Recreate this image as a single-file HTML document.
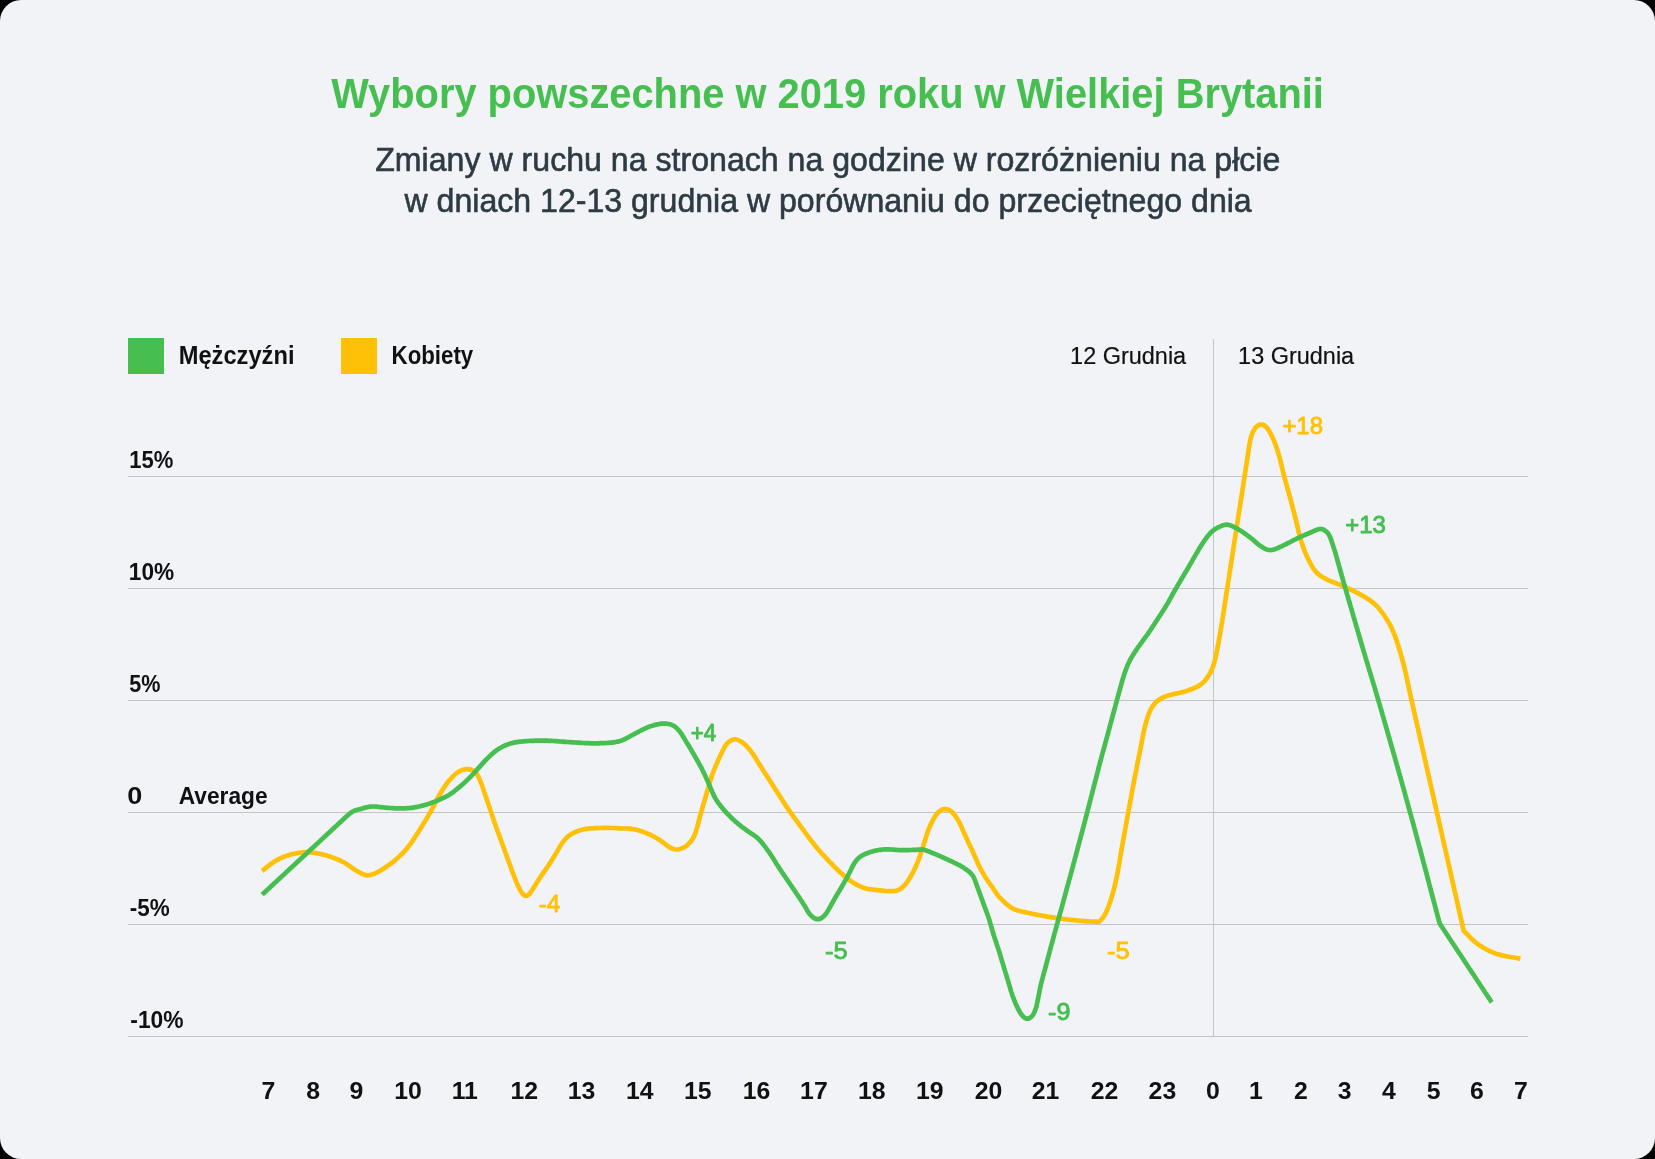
<!DOCTYPE html>
<html lang="pl"><head><meta charset="utf-8"><title>Wybory powszechne w 2019 roku w Wielkiej Brytanii</title>
<style>
html,body{margin:0;padding:0;background:#000;width:1655px;height:1159px;overflow:hidden}
.card{position:absolute;left:0;top:0;width:1655px;height:1159px;background:#f2f3f7;border-radius:21px;overflow:hidden}
svg{position:absolute;left:0;top:0;will-change:transform;font-family:"Liberation Sans", sans-serif}
</style></head><body>
<div class="card">
<svg width="1655" height="1159" viewBox="0 0 1655 1159">
<g fill="#c4c4c4">
<rect x="128" y="476" width="1400" height="1"/>
<rect x="128" y="588" width="1400" height="1"/>
<rect x="128" y="700" width="1400" height="1"/>
<rect x="128" y="812" width="1400" height="1"/>
<rect x="128" y="924" width="1400" height="1"/>
<rect x="128" y="1036" width="1400" height="1"/>
<rect x="1213" y="339" width="1" height="698"/>
</g>
<rect x="128" y="338" width="36" height="36" fill="#46be50"/>
<rect x="341" y="338" width="36" height="36" fill="#ffc107"/>
<path d="M262.1,871.0L262.9,870.4 263.7,869.7 264.4,869.1 265.2,868.5 266.0,867.8 266.8,867.2 267.5,866.6 268.3,865.9 269.1,865.3 269.9,864.7 270.7,864.1 271.5,863.5 272.3,862.9 273.1,862.4 274.0,861.9 274.8,861.3 275.7,860.8 276.6,860.3 277.4,859.8 278.3,859.4 279.2,858.9 280.1,858.5 281.0,858.0 281.9,857.6 282.8,857.2 283.8,856.8 284.7,856.5 285.6,856.1 286.6,855.8 287.5,855.5 288.5,855.2 289.4,854.9 290.4,854.6 291.3,854.3 292.3,854.1 293.3,853.9 294.3,853.7 295.3,853.5 296.2,853.3 297.2,853.1 298.2,853.0 299.2,852.8 300.2,852.7 301.2,852.6 302.2,852.5 303.2,852.4 304.2,852.3 305.2,852.3 306.2,852.2 307.2,852.2 308.2,852.3 309.2,852.3 310.2,852.4 311.2,852.5 312.2,852.6 313.1,852.7 314.1,852.8 315.1,853.0 316.1,853.1 317.1,853.3 318.1,853.5 319.1,853.7 320.0,853.9 321.0,854.1 322.0,854.3 323.0,854.6 323.9,854.8 324.9,855.0 325.9,855.3 326.8,855.6 327.8,855.9 328.8,856.2 329.7,856.5 330.7,856.8 331.6,857.1 332.5,857.5 333.5,857.8 334.4,858.1 335.3,858.5 336.3,858.9 337.2,859.3 338.1,859.6 339.0,860.0 340.0,860.4 340.9,860.9 341.8,861.3 342.7,861.8 343.5,862.2 344.4,862.7 345.3,863.2 346.1,863.8 347.0,864.3 347.8,864.9 348.6,865.4 349.4,866.0 350.3,866.5 351.1,867.1 351.9,867.7 352.7,868.2 353.6,868.8 354.4,869.4 355.2,869.9 356.0,870.5 356.9,871.0 357.7,871.5 358.6,872.0 359.5,872.5 360.4,873.0 361.3,873.4 362.2,873.9 363.1,874.3 364.0,874.6 365.0,874.9 365.9,875.1 366.9,875.3 367.9,875.3 368.9,875.2 369.8,875.1 370.8,874.9 371.8,874.6 372.7,874.3 373.6,874.0 374.6,873.6 375.5,873.2 376.4,872.8 377.3,872.3 378.2,871.9 379.1,871.4 379.9,870.9 380.8,870.4 381.6,869.8 382.5,869.3 383.3,868.8 384.1,868.2 385.0,867.7 385.8,867.1 386.6,866.5 387.5,866.0 388.3,865.4 389.1,864.8 389.9,864.3 390.7,863.7 391.5,863.1 392.3,862.5 393.1,861.8 393.9,861.2 394.6,860.6 395.4,859.9 396.2,859.3 396.9,858.6 397.7,857.9 398.4,857.3 399.1,856.6 399.9,855.9 400.6,855.2 401.3,854.5 402.0,853.8 402.7,853.1 403.4,852.3 404.1,851.6 404.8,850.9 405.4,850.1 406.1,849.4 406.8,848.6 407.4,847.9 408.0,847.1 408.7,846.3 409.3,845.5 409.9,844.7 410.5,843.9 411.1,843.1 411.6,842.3 412.2,841.5 412.7,840.6 413.3,839.8 413.8,839.0 414.4,838.1 414.9,837.3 415.5,836.4 416.0,835.6 416.5,834.8 417.1,833.9 417.6,833.1 418.2,832.2 418.7,831.4 419.2,830.5 419.8,829.7 420.3,828.9 420.8,828.0 421.4,827.2 421.9,826.3 422.4,825.5 423.0,824.6 423.5,823.8 424.0,822.9 424.5,822.1 425.1,821.2 425.6,820.3 426.1,819.5 426.6,818.6 427.1,817.8 427.6,816.9 428.1,816.0 428.6,815.2 429.1,814.3 429.6,813.4 430.1,812.5 430.6,811.7 431.0,810.8 431.5,809.9 432.0,809.1 432.5,808.2 433.0,807.3 433.5,806.4 433.9,805.5 434.4,804.6 434.8,803.8 435.3,802.9 435.8,802.0 436.2,801.1 436.6,800.2 437.1,799.3 437.6,798.4 438.0,797.5 438.5,796.6 439.0,795.8 439.5,794.9 440.0,794.0 440.5,793.2 441.0,792.3 441.5,791.5 442.1,790.6 442.6,789.8 443.1,788.9 443.7,788.1 444.2,787.2 444.8,786.4 445.3,785.6 445.9,784.8 446.5,784.0 447.1,783.2 447.7,782.4 448.3,781.6 449.0,780.8 449.6,780.0 450.3,779.3 450.9,778.5 451.6,777.8 452.3,777.1 453.0,776.3 453.7,775.6 454.4,774.9 455.1,774.3 455.9,773.6 456.7,773.0 457.5,772.5 458.3,771.9 459.2,771.4 460.1,771.0 461.0,770.5 461.9,770.2 462.9,769.8 463.8,769.6 464.8,769.3 465.8,769.2 466.7,769.1 467.7,769.1 468.7,769.2 469.7,769.4 470.6,769.6 471.6,769.9 472.5,770.3 473.4,770.8 474.2,771.3 475.0,771.9 475.7,772.5 476.3,773.3 476.9,774.1 477.4,774.9 477.9,775.8 478.4,776.7 478.8,777.6 479.2,778.5 479.6,779.4 480.0,780.3 480.4,781.3 480.7,782.2 481.1,783.1 481.5,784.1 481.8,785.0 482.2,785.9 482.5,786.9 482.8,787.8 483.2,788.8 483.5,789.7 483.8,790.7 484.1,791.6 484.4,792.5 484.8,793.5 485.1,794.4 485.4,795.4 485.7,796.3 486.1,797.3 486.4,798.2 486.7,799.2 487.0,800.1 487.3,801.1 487.7,802.0 488.0,803.0 488.3,803.9 488.6,804.9 488.9,805.8 489.3,806.8 489.6,807.7 489.9,808.7 490.2,809.6 490.5,810.6 490.8,811.5 491.2,812.5 491.5,813.4 491.8,814.4 492.1,815.3 492.4,816.3 492.7,817.2 493.1,818.2 493.4,819.1 493.7,820.0 494.0,821.0 494.3,821.9 494.7,822.9 495.0,823.8 495.3,824.8 495.7,825.7 496.0,826.7 496.3,827.6 496.7,828.5 497.0,829.5 497.4,830.4 497.7,831.4 498.0,832.3 498.4,833.2 498.7,834.2 499.1,835.1 499.4,836.1 499.8,837.0 500.1,837.9 500.4,838.9 500.8,839.8 501.1,840.8 501.5,841.7 501.8,842.6 502.2,843.6 502.5,844.5 502.9,845.5 503.2,846.4 503.6,847.3 503.9,848.3 504.2,849.2 504.6,850.2 504.9,851.1 505.3,852.0 505.6,853.0 505.9,853.9 506.3,854.9 506.6,855.8 506.9,856.7 507.3,857.7 507.6,858.6 508.0,859.6 508.3,860.5 508.6,861.5 509.0,862.4 509.3,863.3 509.7,864.3 510.0,865.2 510.3,866.2 510.7,867.1 511.0,868.0 511.3,869.0 511.7,869.9 512.0,870.9 512.4,871.8 512.7,872.7 513.1,873.7 513.5,874.6 513.8,875.5 514.2,876.5 514.5,877.4 514.9,878.3 515.3,879.3 515.6,880.2 516.0,881.1 516.4,882.1 516.8,883.0 517.2,883.9 517.6,884.8 518.0,885.7 518.4,886.6 518.9,887.5 519.3,888.4 519.8,889.3 520.3,890.2 520.8,891.0 521.3,891.9 521.8,892.7 522.4,893.5 523.0,894.3 523.7,895.0 524.4,895.5 525.2,895.8 526.0,895.8 526.9,895.7 527.7,895.3 528.5,894.7 529.2,894.1 529.8,893.3 530.4,892.5 531.0,891.7 531.6,890.9 532.1,890.1 532.7,889.2 533.2,888.4 533.8,887.6 534.3,886.7 534.8,885.9 535.4,885.0 535.9,884.2 536.4,883.3 537.0,882.5 537.5,881.6 538.0,880.8 538.6,879.9 539.1,879.1 539.7,878.3 540.2,877.4 540.8,876.6 541.3,875.8 541.9,874.9 542.5,874.1 543.0,873.3 543.6,872.5 544.2,871.6 544.7,870.8 545.3,870.0 545.9,869.2 546.5,868.4 547.0,867.5 547.6,866.7 548.1,865.9 548.7,865.0 549.2,864.2 549.8,863.4 550.3,862.5 550.9,861.7 551.4,860.8 551.9,860.0 552.5,859.1 553.0,858.3 553.5,857.4 554.0,856.6 554.6,855.7 555.1,854.9 555.6,854.0 556.1,853.2 556.6,852.3 557.1,851.4 557.6,850.6 558.1,849.7 558.6,848.8 559.1,848.0 559.6,847.1 560.1,846.2 560.6,845.4 561.2,844.5 561.7,843.7 562.3,842.9 562.9,842.1 563.5,841.3 564.1,840.5 564.8,839.7 565.4,839.0 566.1,838.3 566.8,837.5 567.5,836.9 568.3,836.2 569.1,835.6 569.9,835.0 570.7,834.5 571.6,834.0 572.4,833.5 573.3,833.0 574.2,832.6 575.1,832.1 576.0,831.7 577.0,831.4 577.9,831.0 578.8,830.7 579.8,830.3 580.7,830.0 581.7,829.8 582.7,829.5 583.6,829.3 584.6,829.1 585.6,828.9 586.6,828.8 587.6,828.7 588.6,828.6 589.6,828.5 590.6,828.4 591.6,828.4 592.6,828.3 593.6,828.3 594.6,828.2 595.6,828.2 596.6,828.1 597.6,828.1 598.6,828.0 599.6,828.0 600.6,828.0 601.6,828.0 602.6,827.9 603.6,827.9 604.6,827.9 605.6,827.9 606.6,827.9 607.6,827.9 608.6,827.9 609.6,827.9 610.6,827.9 611.6,828.0 612.6,828.0 613.6,828.0 614.6,828.0 615.6,828.1 616.6,828.2 617.6,828.2 618.6,828.3 619.6,828.3 620.6,828.4 621.6,828.4 622.6,828.5 623.6,828.5 624.6,828.5 625.6,828.5 626.6,828.5 627.6,828.6 628.6,828.6 629.6,828.7 630.6,828.8 631.6,828.9 632.5,829.0 633.5,829.2 634.5,829.4 635.5,829.6 636.5,829.8 637.4,830.0 638.4,830.3 639.3,830.6 640.3,830.9 641.3,831.2 642.2,831.5 643.1,831.9 644.1,832.2 645.0,832.6 645.9,832.9 646.9,833.3 647.8,833.7 648.7,834.1 649.6,834.5 650.5,834.9 651.4,835.4 652.3,835.8 653.2,836.3 654.1,836.7 655.0,837.2 655.9,837.7 656.7,838.2 657.6,838.7 658.4,839.2 659.3,839.8 660.1,840.3 660.9,840.9 661.7,841.5 662.5,842.1 663.3,842.7 664.1,843.3 664.9,844.0 665.7,844.6 666.5,845.2 667.3,845.8 668.1,846.3 668.9,846.9 669.8,847.4 670.7,847.9 671.6,848.3 672.5,848.7 673.4,849.0 674.3,849.3 675.3,849.5 676.3,849.5 677.3,849.5 678.2,849.4 679.2,849.2 680.2,848.9 681.1,848.6 682.1,848.3 683.0,847.9 683.9,847.4 684.7,847.0 685.6,846.4 686.4,845.8 687.2,845.2 687.9,844.6 688.6,843.9 689.3,843.2 690.0,842.4 690.6,841.7 691.3,840.9 691.8,840.1 692.4,839.2 692.9,838.4 693.4,837.5 693.9,836.6 694.3,835.7 694.7,834.8 695.0,833.9 695.4,832.9 695.7,832.0 696.0,831.0 696.3,830.1 696.6,829.1 696.9,828.2 697.2,827.2 697.5,826.3 697.7,825.3 698.0,824.3 698.2,823.4 698.5,822.4 698.7,821.4 699.0,820.4 699.2,819.5 699.4,818.5 699.7,817.5 700.0,816.6 700.2,815.6 700.5,814.6 700.8,813.7 701.0,812.7 701.3,811.7 701.6,810.8 701.9,809.8 702.1,808.9 702.4,807.9 702.7,806.9 703.0,806.0 703.2,805.0 703.5,804.1 703.8,803.1 704.1,802.1 704.4,801.2 704.7,800.2 704.9,799.3 705.2,798.3 705.5,797.3 705.8,796.4 706.1,795.4 706.3,794.5 706.6,793.5 706.9,792.5 707.2,791.6 707.4,790.6 707.7,789.6 708.0,788.7 708.2,787.7 708.5,786.8 708.8,785.8 709.0,784.8 709.3,783.9 709.6,782.9 709.9,781.9 710.2,781.0 710.5,780.0 710.8,779.1 711.1,778.1 711.4,777.2 711.7,776.2 712.0,775.3 712.4,774.3 712.7,773.4 713.1,772.5 713.4,771.5 713.8,770.6 714.2,769.7 714.5,768.7 714.9,767.8 715.3,766.9 715.7,766.0 716.1,765.0 716.5,764.1 716.9,763.2 717.3,762.3 717.7,761.4 718.1,760.5 718.5,759.6 718.9,758.6 719.3,757.7 719.8,756.8 720.2,755.9 720.6,755.0 721.1,754.1 721.5,753.2 721.9,752.3 722.4,751.4 722.8,750.5 723.2,749.6 723.7,748.7 724.2,747.8 724.6,747.0 725.2,746.1 725.7,745.3 726.3,744.5 727.0,743.7 727.6,743.0 728.4,742.3 729.1,741.7 729.9,741.1 730.7,740.6 731.6,740.1 732.5,739.8 733.5,739.5 734.4,739.4 735.4,739.4 736.3,739.5 737.3,739.8 738.2,740.1 739.1,740.5 740.0,741.0 740.9,741.5 741.7,742.0 742.5,742.6 743.3,743.2 744.1,743.8 744.8,744.4 745.6,745.1 746.3,745.8 747.0,746.6 747.6,747.3 748.3,748.1 748.9,748.8 749.6,749.6 750.2,750.4 750.8,751.2 751.4,752.0 752.0,752.8 752.6,753.6 753.2,754.4 753.7,755.2 754.3,756.0 754.8,756.9 755.4,757.7 755.9,758.6 756.4,759.4 756.9,760.3 757.5,761.1 758.0,762.0 758.5,762.9 759.0,763.7 759.5,764.6 760.1,765.4 760.6,766.3 761.1,767.1 761.7,768.0 762.2,768.8 762.7,769.6 763.3,770.5 763.8,771.3 764.4,772.2 764.9,773.0 765.4,773.9 766.0,774.7 766.5,775.5 767.1,776.4 767.6,777.2 768.1,778.1 768.7,778.9 769.2,779.8 769.8,780.6 770.3,781.4 770.8,782.3 771.4,783.1 771.9,784.0 772.5,784.8 773.0,785.6 773.5,786.5 774.1,787.3 774.6,788.2 775.2,789.0 775.7,789.9 776.3,790.7 776.8,791.5 777.3,792.4 777.9,793.2 778.4,794.1 779.0,794.9 779.5,795.7 780.1,796.6 780.6,797.4 781.1,798.3 781.7,799.1 782.2,799.9 782.8,800.8 783.3,801.6 783.8,802.5 784.4,803.3 784.9,804.2 785.5,805.0 786.0,805.8 786.6,806.7 787.1,807.5 787.7,808.3 788.2,809.2 788.8,810.0 789.4,810.8 789.9,811.6 790.5,812.4 791.1,813.3 791.7,814.1 792.3,814.9 792.8,815.7 793.4,816.5 794.0,817.3 794.6,818.1 795.2,818.9 795.8,819.8 796.4,820.6 797.0,821.4 797.6,822.2 798.1,823.0 798.7,823.8 799.3,824.6 799.9,825.4 800.5,826.2 801.1,827.0 801.7,827.8 802.3,828.6 802.9,829.4 803.5,830.2 804.1,831.0 804.7,831.9 805.3,832.7 805.8,833.5 806.4,834.3 807.0,835.1 807.6,835.9 808.2,836.7 808.8,837.5 809.4,838.3 810.0,839.1 810.6,839.9 811.2,840.7 811.8,841.5 812.5,842.3 813.1,843.1 813.7,843.8 814.3,844.6 814.9,845.4 815.6,846.2 816.2,847.0 816.8,847.7 817.5,848.5 818.1,849.3 818.8,850.0 819.4,850.8 820.1,851.5 820.8,852.3 821.4,853.0 822.1,853.8 822.8,854.5 823.4,855.2 824.1,856.0 824.8,856.7 825.5,857.4 826.2,858.2 826.9,858.9 827.6,859.6 828.2,860.3 828.9,861.1 829.6,861.8 830.3,862.5 831.0,863.2 831.7,864.0 832.4,864.7 833.1,865.4 833.8,866.1 834.5,866.8 835.2,867.5 835.9,868.2 836.6,868.9 837.3,869.6 838.1,870.3 838.8,871.0 839.5,871.7 840.3,872.4 841.0,873.0 841.8,873.7 842.5,874.4 843.3,875.0 844.0,875.7 844.8,876.3 845.5,877.0 846.3,877.6 847.1,878.2 847.9,878.9 848.7,879.5 849.5,880.1 850.3,880.7 851.1,881.2 851.9,881.8 852.8,882.3 853.6,882.9 854.5,883.4 855.3,883.9 856.2,884.4 857.1,884.9 857.9,885.3 858.8,885.8 859.7,886.2 860.7,886.6 861.6,887.0 862.5,887.4 863.4,887.7 864.4,888.1 865.3,888.3 866.3,888.6 867.3,888.8 868.3,889.0 869.2,889.2 870.2,889.3 871.2,889.4 872.2,889.5 873.2,889.6 874.2,889.7 875.2,889.9 876.2,890.0 877.2,890.1 878.2,890.2 879.2,890.3 880.2,890.4 881.2,890.5 882.2,890.6 883.2,890.7 884.2,890.8 885.2,890.9 886.2,891.0 887.2,891.1 888.2,891.1 889.2,891.1 890.2,891.2 891.2,891.2 892.1,891.1 893.1,891.1 894.1,891.0 895.1,890.9 896.1,890.7 897.0,890.4 898.0,890.1 898.9,889.7 899.8,889.2 900.6,888.7 901.4,888.1 902.2,887.5 903.0,886.9 903.7,886.2 904.4,885.5 905.1,884.7 905.7,884.0 906.3,883.2 906.9,882.4 907.5,881.6 908.0,880.7 908.6,879.9 909.1,879.0 909.6,878.2 910.1,877.3 910.7,876.5 911.1,875.6 911.6,874.7 912.1,873.8 912.6,873.0 913.1,872.1 913.5,871.2 914.0,870.3 914.4,869.4 914.8,868.5 915.2,867.6 915.7,866.7 916.1,865.8 916.5,864.8 916.9,863.9 917.2,863.0 917.6,862.1 918.0,861.1 918.4,860.2 918.7,859.3 919.1,858.3 919.4,857.4 919.8,856.5 920.1,855.5 920.4,854.6 920.7,853.6 921.0,852.7 921.4,851.7 921.7,850.8 922.0,849.8 922.3,848.9 922.6,847.9 922.9,847.0 923.2,846.0 923.5,845.0 923.8,844.1 924.1,843.1 924.4,842.2 924.7,841.2 925.0,840.3 925.3,839.3 925.6,838.4 925.9,837.4 926.2,836.4 926.5,835.5 926.8,834.5 927.1,833.6 927.4,832.6 927.7,831.7 928.1,830.8 928.4,829.8 928.8,828.9 929.2,828.0 929.6,827.0 930.0,826.1 930.4,825.2 930.8,824.3 931.2,823.4 931.7,822.5 932.1,821.6 932.6,820.7 933.0,819.8 933.5,819.0 934.0,818.1 934.5,817.2 935.0,816.4 935.6,815.6 936.2,814.7 936.8,813.9 937.4,813.2 938.1,812.5 938.8,811.8 939.6,811.1 940.4,810.6 941.2,810.1 942.1,809.7 943.0,809.3 944.0,809.1 945.0,809.0 945.9,809.1 946.9,809.2 947.8,809.5 948.7,809.8 949.6,810.3 950.4,810.8 951.2,811.4 952.0,812.0 952.7,812.7 953.3,813.5 954.0,814.2 954.6,815.0 955.2,815.8 955.8,816.7 956.3,817.5 956.9,818.3 957.4,819.2 957.9,820.0 958.4,820.9 958.9,821.8 959.4,822.6 959.9,823.5 960.3,824.4 960.7,825.3 961.1,826.2 961.6,827.1 962.0,828.1 962.3,829.0 962.7,829.9 963.1,830.8 963.5,831.7 963.9,832.7 964.3,833.6 964.7,834.5 965.2,835.4 965.6,836.3 966.0,837.2 966.4,838.1 966.8,839.0 967.3,839.9 967.7,840.8 968.1,841.8 968.5,842.7 968.9,843.6 969.4,844.5 969.8,845.4 970.2,846.3 970.6,847.2 971.1,848.1 971.5,849.0 971.9,849.9 972.3,850.8 972.7,851.7 973.2,852.6 973.6,853.6 974.0,854.5 974.4,855.4 974.8,856.3 975.2,857.2 975.6,858.1 976.0,859.0 976.4,860.0 976.8,860.9 977.2,861.8 977.6,862.7 978.0,863.6 978.4,864.5 978.8,865.5 979.3,866.4 979.7,867.2 980.2,868.1 980.6,869.0 981.1,869.9 981.6,870.8 982.1,871.7 982.6,872.5 983.1,873.4 983.6,874.3 984.1,875.1 984.6,876.0 985.1,876.8 985.7,877.7 986.2,878.5 986.7,879.3 987.3,880.2 987.9,881.0 988.4,881.8 989.0,882.6 989.6,883.5 990.2,884.3 990.8,885.1 991.3,885.9 991.9,886.7 992.5,887.5 993.1,888.3 993.6,889.2 994.2,890.0 994.7,890.8 995.3,891.7 995.8,892.5 996.4,893.3 997.0,894.2 997.6,895.0 998.2,895.7 998.8,896.5 999.5,897.3 1000.2,898.0 1000.9,898.7 1001.6,899.4 1002.3,900.1 1003.0,900.8 1003.7,901.5 1004.5,902.2 1005.2,902.9 1006.0,903.5 1006.7,904.2 1007.5,904.8 1008.3,905.4 1009.0,906.1 1009.8,906.7 1010.7,907.2 1011.5,907.8 1012.4,908.3 1013.2,908.7 1014.1,909.2 1015.1,909.5 1016.0,909.9 1017.0,910.2 1017.9,910.5 1018.9,910.7 1019.8,911.0 1020.8,911.2 1021.8,911.5 1022.8,911.7 1023.7,911.9 1024.7,912.1 1025.7,912.4 1026.7,912.6 1027.6,912.8 1028.6,913.0 1029.6,913.2 1030.6,913.4 1031.6,913.6 1032.5,913.8 1033.5,914.0 1034.5,914.2 1035.5,914.4 1036.5,914.6 1037.4,914.8 1038.4,915.0 1039.4,915.2 1040.4,915.4 1041.4,915.5 1042.4,915.7 1043.3,915.9 1044.3,916.1 1045.3,916.2 1046.3,916.4 1047.3,916.6 1048.3,916.8 1049.3,916.9 1050.2,917.1 1051.2,917.2 1052.2,917.4 1053.2,917.6 1054.2,917.7 1055.2,917.9 1056.2,918.0 1057.2,918.2 1058.2,918.3 1059.1,918.5 1060.1,918.6 1061.1,918.7 1062.1,918.9 1063.1,919.0 1064.1,919.1 1065.1,919.2 1066.1,919.4 1067.1,919.5 1068.1,919.6 1069.1,919.7 1070.1,919.8 1071.1,919.9 1072.1,920.0 1073.0,920.1 1074.0,920.2 1075.0,920.3 1076.0,920.4 1077.0,920.5 1078.0,920.6 1079.0,920.7 1080.0,920.8 1081.0,920.9 1082.0,920.9 1083.0,921.0 1084.0,921.1 1085.0,921.2 1086.0,921.2 1087.0,921.3 1088.0,921.4 1089.0,921.4 1090.0,921.5 1091.0,921.5 1092.0,921.5 1093.0,921.6 1094.0,921.6 1095.0,921.7 1096.0,921.7 1097.0,921.7 1098.0,921.8 1099.0,921.8L1099.7,921.1 1100.4,920.4 1101.1,919.7 1101.8,918.9 1102.5,918.2 1103.1,917.4 1103.7,916.6 1104.2,915.8 1104.8,914.9 1105.2,914.1 1105.7,913.2 1106.1,912.3 1106.5,911.4 1106.9,910.5 1107.3,909.5 1107.7,908.6 1108.1,907.7 1108.4,906.7 1108.7,905.8 1109.1,904.8 1109.4,903.9 1109.7,903.0 1110.1,902.0 1110.4,901.1 1110.7,900.1 1111.0,899.2 1111.3,898.2 1111.6,897.3 1111.9,896.3 1112.2,895.3 1112.5,894.4 1112.8,893.4 1113.0,892.5 1113.3,891.5 1113.6,890.5 1113.8,889.6 1114.1,888.6 1114.3,887.6 1114.5,886.6 1114.8,885.7 1115.0,884.7 1115.2,883.7 1115.4,882.7 1115.7,881.8 1115.9,880.8 1116.1,879.8 1116.3,878.8 1116.5,877.9 1116.7,876.9 1116.9,875.9 1117.1,874.9 1117.3,873.9 1117.5,873.0 1117.7,872.0 1117.9,871.0 1118.1,870.0 1118.2,869.0 1118.4,868.0 1118.6,867.0 1118.8,866.1 1118.9,865.1 1119.1,864.1 1119.3,863.1 1119.4,862.1 1119.6,861.1 1119.8,860.1 1119.9,859.2 1120.1,858.2 1120.3,857.2 1120.4,856.2 1120.6,855.2 1120.7,854.2 1120.9,853.2 1121.1,852.2 1121.2,851.3 1121.4,850.3 1121.6,849.3 1121.8,848.3 1121.9,847.3 1122.1,846.3 1122.3,845.3 1122.5,844.4 1122.6,843.4 1122.8,842.4 1123.0,841.4 1123.2,840.4 1123.3,839.4 1123.5,838.4 1123.7,837.5 1123.9,836.5 1124.1,835.5 1124.2,834.5 1124.4,833.5 1124.6,832.5 1124.8,831.6 1124.9,830.6 1125.1,829.6 1125.3,828.6 1125.5,827.6 1125.7,826.6 1125.8,825.6 1126.0,824.7 1126.2,823.7 1126.4,822.7 1126.6,821.7 1126.7,820.7 1126.9,819.7 1127.1,818.8 1127.3,817.8 1127.5,816.8 1127.6,815.8 1127.8,814.8 1128.0,813.8 1128.2,812.8 1128.4,811.9 1128.5,810.9 1128.7,809.9 1128.9,808.9 1129.1,807.9 1129.3,806.9 1129.4,806.0 1129.6,805.0 1129.8,804.0 1130.0,803.0 1130.1,802.0 1130.3,801.0 1130.5,800.0 1130.7,799.1 1130.9,798.1 1131.0,797.1 1131.2,796.1 1131.4,795.1 1131.6,794.1 1131.8,793.2 1131.9,792.2 1132.1,791.2 1132.3,790.2 1132.5,789.2 1132.7,788.2 1132.9,787.2 1133.0,786.3 1133.2,785.3 1133.4,784.3 1133.6,783.3 1133.8,782.3 1134.0,781.3 1134.2,780.4 1134.3,779.4 1134.5,778.4 1134.7,777.4 1134.9,776.4 1135.1,775.5 1135.3,774.5 1135.5,773.5 1135.7,772.5 1135.9,771.5 1136.1,770.5 1136.3,769.6 1136.5,768.6 1136.6,767.6 1136.8,766.6 1137.0,765.6 1137.2,764.6 1137.4,763.7 1137.6,762.7 1137.8,761.7 1138.0,760.7 1138.2,759.7 1138.4,758.8 1138.6,757.8 1138.8,756.8 1139.0,755.8 1139.2,754.8 1139.4,753.9 1139.6,752.9 1139.8,751.9 1140.0,750.9 1140.2,749.9 1140.4,749.0 1140.6,748.0 1140.8,747.0 1141.0,746.0 1141.2,745.0 1141.4,744.0 1141.6,743.1 1141.7,742.1 1141.9,741.1 1142.1,740.1 1142.3,739.1 1142.5,738.1 1142.7,737.2 1142.9,736.2 1143.0,735.2 1143.2,734.2 1143.4,733.2 1143.6,732.2 1143.8,731.3 1144.0,730.3 1144.3,729.3 1144.5,728.3 1144.7,727.4 1145.0,726.4 1145.2,725.4 1145.5,724.5 1145.7,723.5 1146.0,722.5 1146.3,721.6 1146.6,720.6 1146.9,719.7 1147.2,718.7 1147.4,717.7 1147.8,716.8 1148.1,715.8 1148.4,714.9 1148.7,714.0 1149.1,713.0 1149.5,712.1 1149.9,711.2 1150.3,710.3 1150.7,709.4 1151.2,708.5 1151.7,707.6 1152.2,706.8 1152.8,706.0 1153.4,705.2 1154.0,704.4 1154.7,703.6 1155.4,702.9 1156.1,702.2 1156.8,701.5 1157.6,700.9 1158.4,700.3 1159.2,699.7 1160.0,699.1 1160.8,698.6 1161.7,698.1 1162.6,697.6 1163.5,697.2 1164.4,696.8 1165.3,696.5 1166.3,696.2 1167.2,695.8 1168.2,695.5 1169.1,695.2 1170.1,695.0 1171.1,694.7 1172.0,694.5 1173.0,694.2 1174.0,694.0 1175.0,693.8 1176.0,693.6 1176.9,693.4 1177.9,693.2 1178.9,693.0 1179.9,692.7 1180.8,692.5 1181.8,692.3 1182.8,692.1 1183.8,691.8 1184.7,691.5 1185.7,691.2 1186.6,690.9 1187.6,690.6 1188.5,690.3 1189.5,689.9 1190.4,689.6 1191.3,689.2 1192.3,688.9 1193.2,688.5 1194.1,688.1 1195.0,687.7 1195.9,687.3 1196.8,686.8 1197.7,686.4 1198.6,685.9 1199.4,685.3 1200.3,684.8 1201.1,684.2 1201.9,683.6 1202.6,683.0 1203.4,682.3 1204.1,681.6 1204.8,680.9 1205.4,680.1 1206.0,679.3 1206.6,678.5 1207.2,677.7 1207.8,676.9 1208.3,676.1 1208.9,675.2 1209.4,674.3 1209.8,673.5 1210.3,672.6 1210.8,671.7 1211.2,670.8 1211.6,669.9 1212.0,669.0 1212.4,668.0 1212.8,667.1 1213.1,666.2 1213.5,665.2 1213.8,664.3 1214.0,663.3 1214.3,662.4 1214.6,661.4 1214.8,660.4 1215.1,659.5 1215.3,658.5 1215.5,657.5 1215.7,656.5 1215.9,655.5 1216.1,654.6 1216.3,653.6 1216.5,652.6 1216.7,651.6 1216.9,650.6 1217.1,649.7 1217.3,648.7 1217.5,647.7 1217.7,646.7 1217.9,645.7 1218.1,644.8 1218.3,643.8 1218.5,642.8 1218.7,641.8 1218.8,640.8 1219.0,639.8 1219.2,638.9 1219.4,637.9 1219.5,636.9 1219.7,635.9 1219.9,634.9 1220.1,633.9 1220.2,632.9 1220.4,631.9 1220.5,631.0 1220.7,630.0 1220.9,629.0 1221.0,628.0 1221.2,627.0 1221.3,626.0 1221.5,625.0 1221.6,624.0 1221.8,623.1 1222.0,622.1 1222.1,621.1 1222.3,620.1 1222.4,619.1 1222.6,618.1 1222.8,617.1 1222.9,616.1 1223.1,615.1 1223.2,614.2 1223.4,613.2 1223.6,612.2 1223.7,611.2 1223.9,610.2 1224.0,609.2 1224.2,608.2 1224.3,607.2 1224.5,606.3 1224.6,605.3 1224.8,604.3 1224.9,603.3 1225.1,602.3 1225.2,601.3 1225.4,600.3 1225.5,599.3 1225.7,598.3 1225.8,597.3 1226.0,596.4 1226.1,595.4 1226.3,594.4 1226.4,593.4 1226.6,592.4 1226.7,591.4 1226.9,590.4 1227.1,589.4 1227.2,588.4 1227.4,587.5 1227.5,586.5 1227.7,585.5 1227.8,584.5 1228.0,583.5 1228.1,582.5 1228.3,581.5 1228.4,580.5 1228.6,579.5 1228.7,578.6 1228.9,577.6 1229.0,576.6 1229.2,575.6 1229.3,574.6 1229.5,573.6 1229.6,572.6 1229.8,571.6 1230.0,570.6 1230.1,569.7 1230.3,568.7 1230.4,567.7 1230.6,566.7 1230.7,565.7 1230.9,564.7 1231.0,563.7 1231.2,562.7 1231.3,561.7 1231.5,560.8 1231.6,559.8 1231.8,558.8 1231.9,557.8 1232.1,556.8 1232.3,555.8 1232.4,554.8 1232.6,553.8 1232.7,552.8 1232.9,551.9 1233.0,550.9 1233.2,549.9 1233.3,548.9 1233.5,547.9 1233.6,546.9 1233.8,545.9 1233.9,544.9 1234.1,543.9 1234.2,542.9 1234.4,542.0 1234.5,541.0 1234.7,540.0 1234.9,539.0 1235.0,538.0 1235.2,537.0 1235.3,536.0 1235.5,535.0 1235.6,534.0 1235.8,533.1 1235.9,532.1 1236.1,531.1 1236.2,530.1 1236.4,529.1 1236.5,528.1 1236.7,527.1 1236.8,526.1 1237.0,525.1 1237.2,524.2 1237.3,523.2 1237.5,522.2 1237.6,521.2 1237.8,520.2 1237.9,519.2 1238.1,518.2 1238.2,517.2 1238.4,516.2 1238.5,515.3 1238.7,514.3 1238.8,513.3 1239.0,512.3 1239.1,511.3 1239.3,510.3 1239.5,509.3 1239.6,508.3 1239.8,507.3 1239.9,506.4 1240.1,505.4 1240.2,504.4 1240.4,503.4 1240.5,502.4 1240.7,501.4 1240.8,500.4 1241.0,499.4 1241.1,498.4 1241.3,497.5 1241.4,496.5 1241.6,495.5 1241.8,494.5 1241.9,493.5 1242.1,492.5 1242.2,491.5 1242.4,490.5 1242.5,489.5 1242.7,488.6 1242.8,487.6 1243.0,486.6 1243.1,485.6 1243.3,484.6 1243.4,483.6 1243.6,482.6 1243.7,481.6 1243.9,480.6 1244.1,479.7 1244.2,478.7 1244.4,477.7 1244.5,476.7 1244.7,475.7 1244.8,474.7 1245.0,473.7 1245.1,472.7 1245.3,471.7 1245.4,470.8 1245.6,469.8 1245.7,468.8 1245.9,467.8 1246.0,466.8 1246.2,465.8 1246.4,464.8 1246.5,463.8 1246.7,462.8 1246.8,461.9 1247.0,460.9 1247.1,459.9 1247.3,458.9 1247.4,457.9 1247.6,456.9 1247.7,455.9 1247.9,454.9 1248.0,453.9 1248.1,452.9 1248.3,452.0 1248.4,451.0 1248.6,450.0 1248.7,449.0 1248.9,448.0 1249.1,447.0 1249.2,446.0 1249.4,445.0 1249.6,444.1 1249.7,443.1 1249.9,442.1 1250.1,441.1 1250.3,440.1 1250.5,439.1 1250.8,438.2 1251.0,437.2 1251.3,436.2 1251.6,435.3 1251.9,434.4 1252.3,433.4 1252.7,432.5 1253.1,431.6 1253.6,430.7 1254.1,429.9 1254.6,429.0 1255.2,428.2 1255.8,427.4 1256.5,426.7 1257.2,426.0 1258.0,425.5 1258.8,425.0 1259.7,424.6 1260.6,424.5 1261.5,424.5 1262.5,424.6 1263.3,425.0 1264.2,425.4 1265.0,426.0 1265.7,426.6 1266.4,427.3 1267.1,428.1 1267.7,428.9 1268.2,429.7 1268.8,430.5 1269.3,431.4 1269.8,432.3 1270.3,433.1 1270.8,434.0 1271.2,434.9 1271.7,435.8 1272.1,436.7 1272.6,437.6 1273.0,438.5 1273.4,439.4 1273.8,440.3 1274.2,441.3 1274.5,442.2 1274.9,443.1 1275.2,444.1 1275.6,445.0 1275.9,445.9 1276.2,446.9 1276.6,447.8 1276.9,448.8 1277.2,449.7 1277.5,450.7 1277.8,451.6 1278.1,452.6 1278.4,453.6 1278.7,454.5 1279.0,455.5 1279.2,456.4 1279.5,457.4 1279.8,458.4 1280.0,459.3 1280.3,460.3 1280.5,461.3 1280.8,462.2 1281.0,463.2 1281.2,464.2 1281.5,465.2 1281.7,466.1 1281.9,467.1 1282.2,468.1 1282.4,469.1 1282.6,470.0 1282.9,471.0 1283.1,472.0 1283.3,473.0 1283.6,473.9 1283.8,474.9 1284.1,475.9 1284.3,476.8 1284.6,477.8 1284.8,478.8 1285.1,479.7 1285.4,480.7 1285.6,481.7 1285.9,482.6 1286.2,483.6 1286.4,484.6 1286.7,485.5 1287.0,486.5 1287.2,487.4 1287.5,488.4 1287.8,489.4 1288.0,490.3 1288.3,491.3 1288.6,492.3 1288.8,493.2 1289.1,494.2 1289.4,495.2 1289.6,496.1 1289.9,497.1 1290.1,498.1 1290.4,499.0 1290.7,500.0 1290.9,501.0 1291.2,501.9 1291.4,502.9 1291.7,503.9 1291.9,504.8 1292.2,505.8 1292.5,506.8 1292.7,507.7 1293.0,508.7 1293.2,509.7 1293.5,510.6 1293.7,511.6 1294.0,512.6 1294.2,513.5 1294.5,514.5 1294.7,515.5 1295.0,516.5 1295.2,517.4 1295.5,518.4 1295.7,519.4 1295.9,520.3 1296.2,521.3 1296.4,522.3 1296.6,523.3 1296.9,524.2 1297.1,525.2 1297.3,526.2 1297.6,527.2 1297.8,528.1 1298.0,529.1 1298.2,530.1 1298.5,531.1 1298.7,532.0 1298.9,533.0 1299.2,534.0 1299.4,534.9 1299.7,535.9 1299.9,536.9 1300.2,537.8 1300.5,538.8 1300.8,539.8 1301.1,540.7 1301.4,541.7 1301.7,542.6 1302.0,543.6 1302.3,544.5 1302.6,545.5 1303.0,546.4 1303.3,547.4 1303.6,548.3 1304.0,549.2 1304.3,550.2 1304.7,551.1 1305.1,552.0 1305.4,553.0 1305.8,553.9 1306.2,554.8 1306.6,555.7 1307.0,556.6 1307.5,557.5 1307.9,558.4 1308.3,559.3 1308.8,560.2 1309.2,561.1 1309.7,562.0 1310.2,562.9 1310.6,563.8 1311.1,564.7 1311.6,565.5 1312.1,566.4 1312.6,567.2 1313.2,568.1 1313.7,568.9 1314.3,569.7 1314.9,570.5 1315.5,571.3 1316.2,572.0 1316.9,572.8 1317.6,573.5 1318.4,574.1 1319.1,574.8 1319.9,575.4 1320.7,575.9 1321.6,576.5 1322.4,577.0 1323.3,577.5 1324.2,578.0 1325.0,578.5 1325.9,579.0 1326.8,579.4 1327.7,579.9 1328.6,580.3 1329.5,580.7 1330.4,581.1 1331.4,581.5 1332.3,581.8 1333.2,582.2 1334.2,582.5 1335.1,582.9 1336.0,583.2 1337.0,583.6 1337.9,584.0 1338.8,584.3 1339.8,584.7 1340.7,585.1 1341.6,585.5 1342.5,585.9 1343.4,586.3 1344.4,586.7 1345.3,587.1 1346.2,587.5 1347.1,587.9 1348.0,588.3 1348.9,588.7 1349.8,589.2 1350.7,589.6 1351.7,590.0 1352.6,590.4 1353.5,590.9 1354.4,591.3 1355.3,591.8 1356.1,592.2 1357.0,592.7 1357.9,593.1 1358.8,593.6 1359.7,594.1 1360.5,594.6 1361.4,595.1 1362.3,595.6 1363.2,596.1 1364.0,596.6 1364.9,597.1 1365.7,597.6 1366.6,598.1 1367.4,598.7 1368.3,599.2 1369.1,599.8 1369.9,600.3 1370.7,600.9 1371.5,601.5 1372.3,602.1 1373.1,602.7 1373.9,603.4 1374.6,604.0 1375.4,604.7 1376.1,605.4 1376.8,606.1 1377.5,606.9 1378.2,607.6 1378.8,608.3 1379.5,609.1 1380.1,609.9 1380.7,610.7 1381.3,611.5 1381.9,612.3 1382.5,613.1 1383.1,613.9 1383.7,614.7 1384.3,615.5 1384.8,616.3 1385.4,617.2 1385.9,618.0 1386.5,618.9 1387.0,619.7 1387.5,620.6 1388.0,621.4 1388.5,622.3 1389.0,623.1 1389.5,624.0 1390.0,624.9 1390.5,625.8 1390.9,626.7 1391.4,627.6 1391.8,628.5 1392.2,629.4 1392.6,630.3 1393.0,631.2 1393.4,632.1 1393.8,633.1 1394.2,634.0 1394.5,634.9 1394.9,635.9 1395.2,636.8 1395.6,637.7 1395.9,638.7 1396.3,639.6 1396.6,640.6 1396.9,641.5 1397.2,642.5 1397.5,643.4 1397.8,644.4 1398.1,645.3 1398.4,646.3 1398.7,647.2 1399.0,648.2 1399.3,649.1 1399.6,650.1 1399.9,651.1 1400.2,652.0 1400.5,653.0 1400.7,653.9 1401.0,654.9 1401.3,655.9 1401.5,656.8 1401.8,657.8 1402.1,658.8 1402.3,659.7 1402.6,660.7 1402.9,661.7 1403.1,662.6 1403.4,663.6 1403.6,664.6 1403.9,665.5 1404.1,666.5 1404.3,667.5 1404.6,668.4 1404.8,669.4 1405.0,670.4 1405.3,671.4 1405.5,672.3 1405.7,673.3 1405.9,674.3 1406.1,675.3 1406.4,676.3 1406.6,677.2 1406.8,678.2 1407.0,679.2 1407.2,680.2 1407.4,681.1 1407.6,682.1 1407.8,683.1 1408.0,684.1 1408.3,685.1 1408.5,686.0 1408.7,687.0 1408.9,688.0 1409.1,689.0 1409.3,690.0 1409.5,690.9 1409.7,691.9 1409.9,692.9 1410.1,693.9 1410.4,694.8 1410.6,695.8 1410.8,696.8 1411.0,697.8 1411.2,698.8 1411.4,699.7 1411.7,700.7 1411.9,701.7 1412.1,702.7 1412.3,703.6 1412.5,704.6 1412.8,705.6 1413.0,706.6 1413.2,707.5 1413.4,708.5 1413.6,709.5 1413.9,710.5 1414.1,711.4 1414.3,712.4 1414.5,713.4 1414.7,714.4 1415.0,715.4 1415.2,716.3 1415.4,717.3 1415.6,718.3 1415.8,719.3 1416.1,720.2 1416.3,721.2 1416.5,722.2 1416.7,723.2 1417.0,724.1 1417.2,725.1 1417.4,726.1 1417.6,727.1 1417.8,728.0 1418.1,729.0 1418.3,730.0 1418.5,731.0 1418.7,731.9 1418.9,732.9 1419.2,733.9 1419.4,734.9 1419.6,735.9 1419.8,736.8 1420.0,737.8 1420.3,738.8 1420.5,739.8 1420.7,740.7 1420.9,741.7 1421.1,742.7 1421.4,743.7 1421.6,744.6 1421.8,745.6 1422.0,746.6 1422.2,747.6 1422.5,748.5 1422.7,749.5 1422.9,750.5 1423.1,751.5 1423.3,752.4 1423.6,753.4 1423.8,754.4 1424.0,755.4 1424.2,756.3 1424.5,757.3 1424.7,758.3 1424.9,759.3 1425.1,760.3 1425.3,761.2 1425.6,762.2 1425.8,763.2 1426.0,764.2 1426.2,765.1 1426.4,766.1 1426.7,767.1 1426.9,768.1 1427.1,769.0 1427.3,770.0 1427.5,771.0 1427.8,772.0 1428.0,772.9 1428.2,773.9 1428.4,774.9 1428.6,775.9 1428.9,776.8 1429.1,777.8 1429.3,778.8 1429.5,779.8 1429.7,780.8 1430.0,781.7 1430.2,782.7 1430.4,783.7 1430.6,784.7 1430.9,785.6 1431.1,786.6 1431.3,787.6 1431.5,788.6 1431.7,789.5 1432.0,790.5 1432.2,791.5 1432.4,792.5 1432.6,793.4 1432.8,794.4 1433.1,795.4 1433.3,796.4 1433.5,797.3 1433.7,798.3 1433.9,799.3 1434.2,800.3 1434.4,801.3 1434.6,802.2 1434.8,803.2 1435.0,804.2 1435.3,805.2 1435.5,806.1 1435.7,807.1 1435.9,808.1 1436.1,809.1 1436.4,810.0 1436.6,811.0 1436.8,812.0 1437.0,813.0 1437.2,813.9 1437.5,814.9 1437.7,815.9 1437.9,816.9 1438.1,817.8 1438.4,818.8 1438.6,819.8 1438.8,820.8 1439.0,821.8 1439.2,822.7 1439.5,823.7 1439.7,824.7 1439.9,825.7 1440.1,826.6 1440.3,827.6 1440.6,828.6 1440.8,829.6 1441.0,830.5 1441.2,831.5 1441.4,832.5 1441.7,833.5 1441.9,834.4 1442.1,835.4 1442.3,836.4 1442.5,837.4 1442.8,838.3 1443.0,839.3 1443.2,840.3 1443.4,841.3 1443.6,842.3 1443.9,843.2 1444.1,844.2 1444.3,845.2 1444.5,846.2 1444.7,847.1 1445.0,848.1 1445.2,849.1 1445.4,850.1 1445.6,851.0 1445.8,852.0 1446.1,853.0 1446.3,854.0 1446.5,854.9 1446.7,855.9 1447.0,856.9 1447.2,857.9 1447.4,858.8 1447.6,859.8 1447.8,860.8 1448.1,861.8 1448.3,862.8 1448.5,863.7 1448.7,864.7 1448.9,865.7 1449.2,866.7 1449.4,867.6 1449.6,868.6 1449.8,869.6 1450.0,870.6 1450.3,871.5 1450.5,872.5 1450.7,873.5 1450.9,874.5 1451.1,875.4 1451.4,876.4 1451.6,877.4 1451.8,878.4 1452.0,879.3 1452.2,880.3 1452.5,881.3 1452.7,882.3 1452.9,883.3 1453.1,884.2 1453.3,885.2 1453.6,886.2 1453.8,887.2 1454.0,888.1 1454.2,889.1 1454.4,890.1 1454.7,891.1 1454.9,892.0 1455.1,893.0 1455.3,894.0 1455.6,895.0 1455.8,895.9 1456.0,896.9 1456.2,897.9 1456.4,898.9 1456.7,899.8 1456.9,900.8 1457.1,901.8 1457.3,902.8 1457.5,903.8 1457.8,904.7 1458.0,905.7 1458.2,906.7 1458.4,907.7 1458.6,908.6 1458.9,909.6 1459.1,910.6 1459.3,911.6 1459.5,912.5 1459.7,913.5 1460.0,914.5 1460.2,915.5 1460.4,916.4 1460.6,917.4 1460.8,918.4 1461.1,919.4 1461.3,920.3 1461.5,921.3 1461.7,922.3 1461.9,923.3 1462.2,924.3 1462.4,925.2 1462.6,926.2 1462.8,927.2 1463.0,928.2 1463.3,929.1 1463.5,930.1 1463.6,930.6L1464.3,931.3 1465.0,932.0 1465.7,932.8 1466.4,933.5 1467.1,934.2 1467.8,934.9 1468.5,935.7 1469.2,936.4 1469.9,937.1 1470.6,937.8 1471.4,938.6 1472.1,939.3 1472.8,940.0 1473.6,940.6 1474.3,941.3 1475.1,942.0 1475.9,942.6 1476.7,943.2 1477.5,943.8 1478.3,944.4 1479.1,945.0 1480.0,945.5 1480.8,946.1 1481.7,946.6 1482.5,947.2 1483.4,947.7 1484.3,948.2 1485.2,948.7 1486.0,949.2 1486.9,949.6 1487.8,950.1 1488.7,950.6 1489.6,951.0 1490.6,951.4 1491.5,951.8 1492.4,952.2 1493.3,952.6 1494.3,953.0 1495.2,953.4 1496.2,953.7 1497.1,954.0 1498.1,954.3 1499.1,954.6 1500.0,954.9 1501.0,955.1 1502.0,955.4 1503.0,955.6 1504.0,955.8 1505.0,956.0 1506.0,956.2 1507.0,956.4 1508.0,956.5 1508.9,956.7 1509.9,956.9 1510.9,957.0 1511.9,957.2 1512.9,957.4 1513.9,957.5 1514.9,957.7 1515.9,957.9 1516.9,958.0 1517.9,958.2 1518.9,958.4 1519.9,958.6 1520.4,958.7" fill="none" stroke="#ffc107" stroke-width="4.7" stroke-linejoin="miter"/>
<path d="M262.1,894.7L262.8,894.0 263.6,893.3 264.3,892.7 265.0,892.0 265.8,891.3 266.5,890.6 267.2,889.9 268.0,889.3 268.7,888.6 269.4,887.9 270.2,887.2 270.9,886.5 271.6,885.8 272.4,885.2 273.1,884.5 273.8,883.8 274.6,883.1 275.3,882.4 276.0,881.8 276.8,881.1 277.5,880.4 278.2,879.7 279.0,879.0 279.7,878.4 280.4,877.7 281.2,877.0 281.9,876.3 282.6,875.6 283.4,875.0 284.1,874.3 284.8,873.6 285.6,872.9 286.3,872.2 287.0,871.5 287.8,870.9 288.5,870.2 289.2,869.5 290.0,868.8 290.7,868.1 291.4,867.5 292.2,866.8 292.9,866.1 293.6,865.4 294.4,864.7 295.1,864.1 295.8,863.4 296.6,862.7 297.3,862.0 298.0,861.3 298.8,860.7 299.5,860.0 300.3,859.3 301.0,858.6 301.7,857.9 302.5,857.3 303.2,856.6 303.9,855.9 304.7,855.2 305.4,854.5 306.1,853.9 306.9,853.2 307.6,852.5 308.3,851.8 309.1,851.1 309.8,850.5 310.5,849.8 311.3,849.1 312.0,848.4 312.7,847.7 313.5,847.1 314.2,846.4 314.9,845.7 315.7,845.0 316.4,844.3 317.1,843.7 317.9,843.0 318.6,842.3 319.3,841.6 320.1,840.9 320.8,840.2 321.5,839.6 322.3,838.9 323.0,838.2 323.7,837.5 324.5,836.8 325.2,836.2 325.9,835.5 326.7,834.8 327.4,834.1 328.1,833.4 328.9,832.8 329.6,832.1 330.3,831.4 331.1,830.7 331.8,830.0 332.5,829.3 333.3,828.7 334.0,828.0 334.7,827.3 335.5,826.6 336.2,825.9 336.9,825.3 337.7,824.6 338.4,823.9 339.1,823.2 339.9,822.5 340.6,821.9 341.3,821.2 342.1,820.5 342.8,819.8 343.5,819.1 344.3,818.5 345.0,817.8 345.8,817.1 346.5,816.4 347.2,815.7 348.0,815.1 348.7,814.4 349.5,813.8 350.3,813.2 351.1,812.6 351.9,812.0 352.8,811.5 353.6,811.0 354.5,810.6 355.5,810.3 356.4,810.0 357.4,809.8 358.4,809.5 359.3,809.3 360.3,809.1 361.3,808.8 362.2,808.5 363.2,808.2 364.1,807.9 365.1,807.7 366.1,807.4 367.1,807.2 368.0,807.0 369.0,806.8 370.0,806.7 371.0,806.6 372.0,806.5 373.0,806.5 374.0,806.5 375.0,806.5 376.0,806.6 377.0,806.7 378.0,806.8 379.0,807.0 380.0,807.1 380.9,807.2 381.9,807.3 382.9,807.4 383.9,807.5 384.9,807.6 385.9,807.7 386.9,807.8 387.9,807.8 388.9,807.9 389.9,808.0 390.9,808.0 391.9,808.1 392.9,808.2 393.9,808.2 394.9,808.3 395.9,808.3 396.9,808.3 397.9,808.4 398.9,808.4 399.9,808.4 400.9,808.4 401.9,808.4 402.9,808.4 403.9,808.3 404.9,808.3 405.9,808.3 406.9,808.2 407.9,808.1 408.9,808.1 409.9,808.0 410.9,807.9 411.9,807.8 412.9,807.6 413.9,807.5 414.9,807.3 415.9,807.1 416.8,806.9 417.8,806.7 418.8,806.5 419.8,806.3 420.7,806.1 421.7,805.8 422.7,805.6 423.6,805.3 424.6,805.1 425.6,804.8 426.5,804.5 427.5,804.2 428.4,803.9 429.4,803.6 430.3,803.3 431.3,802.9 432.2,802.6 433.2,802.2 434.1,801.9 435.0,801.5 436.0,801.1 436.9,800.7 437.8,800.4 438.7,800.0 439.6,799.6 440.6,799.2 441.5,798.7 442.4,798.3 443.3,797.9 444.2,797.5 445.1,797.1 446.0,796.6 446.9,796.2 447.8,795.7 448.6,795.2 449.5,794.6 450.3,794.1 451.1,793.5 452.0,793.0 452.8,792.4 453.6,791.8 454.3,791.2 455.1,790.5 455.9,789.9 456.7,789.3 457.5,788.6 458.2,788.0 459.0,787.4 459.8,786.7 460.5,786.1 461.3,785.4 462.1,784.8 462.8,784.1 463.6,783.4 464.3,782.8 465.0,782.1 465.8,781.4 466.5,780.7 467.2,780.0 467.9,779.3 468.6,778.6 469.4,777.9 470.1,777.2 470.7,776.5 471.4,775.8 472.1,775.0 472.8,774.3 473.5,773.6 474.2,772.8 474.8,772.1 475.5,771.4 476.2,770.6 476.9,769.9 477.5,769.1 478.2,768.4 478.9,767.7 479.6,766.9 480.2,766.2 480.9,765.4 481.6,764.7 482.2,763.9 482.9,763.2 483.6,762.4 484.2,761.7 484.9,761.0 485.6,760.2 486.3,759.5 487.0,758.8 487.7,758.1 488.4,757.4 489.1,756.7 489.9,756.0 490.6,755.3 491.3,754.6 492.1,754.0 492.8,753.3 493.6,752.7 494.4,752.0 495.1,751.4 495.9,750.8 496.7,750.2 497.6,749.6 498.4,749.1 499.2,748.6 500.1,748.0 501.0,747.6 501.9,747.1 502.7,746.6 503.6,746.2 504.5,745.7 505.5,745.3 506.4,745.0 507.3,744.6 508.2,744.2 509.2,743.9 510.1,743.6 511.1,743.3 512.1,743.1 513.0,742.8 514.0,742.6 515.0,742.4 516.0,742.2 517.0,742.1 518.0,741.9 518.9,741.8 519.9,741.7 520.9,741.6 521.9,741.5 522.9,741.4 523.9,741.3 524.9,741.2 525.9,741.2 526.9,741.1 527.9,741.0 528.9,741.0 529.9,740.9 530.9,740.9 531.9,740.8 532.9,740.8 533.9,740.8 534.9,740.7 535.9,740.7 536.9,740.7 537.9,740.7 538.9,740.7 539.9,740.7 540.9,740.7 541.9,740.7 542.9,740.7 543.9,740.7 544.9,740.7 545.9,740.7 546.9,740.7 547.9,740.7 548.9,740.8 549.9,740.8 550.9,740.9 551.9,740.9 552.9,741.0 553.9,741.0 554.9,741.1 555.9,741.2 556.9,741.2 557.9,741.3 558.9,741.4 559.9,741.5 560.9,741.5 561.9,741.6 562.9,741.7 563.9,741.8 564.9,741.8 565.9,741.9 566.9,742.0 567.9,742.0 568.9,742.1 569.9,742.2 570.9,742.2 571.9,742.3 572.9,742.3 573.9,742.4 574.9,742.5 575.9,742.5 576.9,742.6 577.9,742.7 578.9,742.7 579.9,742.8 580.9,742.8 581.9,742.9 582.9,743.0 583.9,743.0 584.9,743.1 585.9,743.1 586.9,743.2 587.9,743.2 588.9,743.2 589.9,743.3 590.9,743.3 591.9,743.3 592.9,743.3 593.9,743.3 594.9,743.3 595.9,743.3 596.9,743.3 597.9,743.3 598.9,743.3 599.9,743.2 600.9,743.2 601.9,743.2 602.9,743.1 603.9,743.1 604.9,743.1 605.9,743.0 606.9,743.0 607.9,742.9 608.9,742.8 609.9,742.7 610.9,742.7 611.9,742.6 612.9,742.4 613.9,742.3 614.9,742.2 615.8,742.0 616.8,741.8 617.8,741.6 618.8,741.4 619.7,741.1 620.7,740.8 621.6,740.5 622.6,740.1 623.5,739.7 624.4,739.3 625.3,738.9 626.2,738.4 627.1,738.0 627.9,737.5 628.8,737.0 629.7,736.5 630.6,736.0 631.4,735.5 632.3,735.0 633.2,734.5 634.1,734.1 635.0,733.6 635.8,733.2 636.7,732.7 637.6,732.2 638.5,731.8 639.4,731.3 640.3,730.8 641.2,730.4 642.1,729.9 643.0,729.5 643.9,729.0 644.8,728.6 645.7,728.2 646.6,727.8 647.5,727.4 648.4,727.0 649.4,726.6 650.3,726.3 651.3,726.0 652.2,725.7 653.2,725.4 654.1,725.1 655.1,724.9 656.1,724.6 657.0,724.4 658.0,724.2 659.0,724.0 660.0,723.8 661.0,723.7 662.0,723.6 663.0,723.6 664.0,723.6 665.0,723.6 666.0,723.6 666.9,723.7 667.9,723.9 668.9,724.0 669.9,724.3 670.8,724.6 671.8,724.9 672.7,725.3 673.5,725.8 674.4,726.3 675.2,726.9 676.0,727.5 676.7,728.2 677.4,728.9 678.1,729.6 678.8,730.3 679.4,731.1 680.0,731.9 680.6,732.7 681.2,733.5 681.8,734.3 682.3,735.2 682.8,736.0 683.3,736.9 683.9,737.7 684.4,738.6 684.9,739.5 685.4,740.3 685.9,741.2 686.4,742.0 687.0,742.9 687.5,743.7 688.0,744.6 688.5,745.4 689.1,746.3 689.6,747.2 690.1,748.0 690.6,748.9 691.1,749.7 691.6,750.6 692.1,751.5 692.6,752.3 693.1,753.2 693.6,754.1 694.1,754.9 694.6,755.8 695.1,756.7 695.6,757.5 696.1,758.4 696.6,759.3 697.1,760.1 697.6,761.0 698.1,761.9 698.6,762.8 699.0,763.6 699.5,764.5 700.0,765.4 700.5,766.3 701.0,767.2 701.4,768.0 701.9,768.9 702.3,769.8 702.8,770.7 703.2,771.6 703.7,772.5 704.1,773.4 704.5,774.3 705.0,775.2 705.4,776.1 705.8,777.1 706.2,778.0 706.6,778.9 707.0,779.8 707.4,780.7 707.8,781.6 708.2,782.5 708.6,783.5 709.0,784.4 709.4,785.3 709.8,786.2 710.2,787.1 710.6,788.0 711.0,789.0 711.4,789.9 711.8,790.8 712.2,791.7 712.6,792.7 713.0,793.6 713.4,794.5 713.8,795.4 714.3,796.3 714.7,797.2 715.2,798.0 715.7,798.9 716.2,799.8 716.8,800.6 717.3,801.4 717.9,802.3 718.5,803.1 719.1,803.9 719.7,804.7 720.3,805.5 720.9,806.3 721.5,807.0 722.2,807.8 722.8,808.6 723.5,809.3 724.1,810.1 724.8,810.8 725.5,811.6 726.1,812.3 726.8,813.0 727.5,813.8 728.2,814.5 728.9,815.2 729.6,815.9 730.3,816.6 731.0,817.3 731.7,818.0 732.4,818.7 733.2,819.4 733.9,820.1 734.6,820.8 735.4,821.5 736.1,822.1 736.9,822.8 737.6,823.4 738.4,824.1 739.2,824.7 740.0,825.3 740.7,826.0 741.5,826.6 742.3,827.2 743.2,827.7 744.0,828.3 744.8,828.9 745.6,829.5 746.4,830.1 747.2,830.7 748.0,831.2 748.9,831.8 749.7,832.4 750.5,832.9 751.3,833.5 752.2,834.0 753.0,834.6 753.8,835.2 754.7,835.7 755.5,836.3 756.2,837.0 757.0,837.6 757.8,838.3 758.5,838.9 759.2,839.7 759.9,840.4 760.6,841.1 761.2,841.9 761.9,842.6 762.5,843.4 763.1,844.2 763.8,845.0 764.4,845.8 765.0,846.6 765.6,847.4 766.2,848.2 766.8,849.0 767.3,849.8 767.9,850.6 768.5,851.4 769.1,852.2 769.7,853.0 770.2,853.9 770.8,854.7 771.3,855.5 771.9,856.4 772.4,857.2 773.0,858.1 773.5,858.9 774.0,859.8 774.5,860.6 775.1,861.5 775.6,862.3 776.1,863.2 776.6,864.0 777.2,864.9 777.7,865.7 778.3,866.5 778.8,867.4 779.4,868.2 779.9,869.1 780.5,869.9 781.0,870.7 781.6,871.6 782.1,872.4 782.7,873.2 783.3,874.0 783.8,874.9 784.4,875.7 785.0,876.5 785.5,877.3 786.1,878.2 786.6,879.0 787.2,879.8 787.8,880.6 788.3,881.5 788.9,882.3 789.5,883.1 790.0,884.0 790.6,884.8 791.2,885.6 791.7,886.4 792.3,887.3 792.8,888.1 793.4,888.9 794.0,889.8 794.5,890.6 795.1,891.4 795.6,892.2 796.2,893.1 796.8,893.9 797.3,894.7 797.9,895.6 798.4,896.4 799.0,897.2 799.6,898.1 800.1,898.9 800.7,899.7 801.2,900.6 801.8,901.4 802.3,902.2 802.9,903.1 803.4,903.9 803.9,904.8 804.5,905.6 805.0,906.5 805.5,907.3 806.0,908.2 806.5,909.1 807.0,909.9 807.5,910.8 808.0,911.7 808.5,912.5 809.1,913.3 809.7,914.1 810.4,914.8 811.1,915.6 811.8,916.2 812.5,916.9 813.3,917.5 814.1,918.1 815.0,918.5 815.9,918.9 816.8,919.1 817.7,919.2 818.7,919.1 819.6,918.9 820.5,918.5 821.4,918.1 822.2,917.5 822.9,916.9 823.7,916.2 824.4,915.5 825.1,914.8 825.7,914.0 826.3,913.2 826.9,912.4 827.4,911.6 827.9,910.7 828.4,909.9 828.9,909.0 829.4,908.1 829.9,907.3 830.4,906.4 830.9,905.5 831.3,904.6 831.8,903.7 832.3,902.9 832.8,902.0 833.3,901.1 833.8,900.2 834.3,899.4 834.8,898.5 835.3,897.6 835.8,896.8 836.3,895.9 836.8,895.1 837.3,894.2 837.8,893.3 838.3,892.5 838.9,891.6 839.4,890.8 839.9,889.9 840.4,889.0 840.9,888.2 841.4,887.3 841.9,886.4 842.4,885.6 842.9,884.7 843.4,883.8 843.9,883.0 844.4,882.1 844.9,881.2 845.4,880.4 845.9,879.5 846.4,878.6 846.9,877.8 847.4,876.9 847.8,876.0 848.3,875.1 848.7,874.2 849.2,873.3 849.6,872.4 850.1,871.5 850.5,870.6 850.9,869.7 851.4,868.8 851.8,867.9 852.3,867.0 852.7,866.1 853.2,865.3 853.7,864.4 854.2,863.5 854.7,862.7 855.3,861.9 855.9,861.0 856.5,860.3 857.2,859.5 857.8,858.8 858.6,858.1 859.3,857.5 860.1,856.9 860.9,856.3 861.8,855.8 862.6,855.3 863.5,854.8 864.4,854.4 865.3,853.9 866.3,853.5 867.2,853.2 868.1,852.8 869.1,852.5 870.0,852.1 871.0,851.8 871.9,851.6 872.9,851.3 873.8,851.0 874.8,850.8 875.8,850.6 876.8,850.4 877.8,850.2 878.7,850.0 879.7,849.9 880.7,849.8 881.7,849.6 882.7,849.5 883.7,849.5 884.7,849.4 885.7,849.4 886.7,849.4 887.7,849.4 888.7,849.4 889.7,849.4 890.7,849.5 891.7,849.5 892.7,849.6 893.7,849.7 894.7,849.7 895.7,849.8 896.7,849.9 897.7,850.0 898.7,850.0 899.7,850.1 900.7,850.1 901.7,850.2 902.7,850.2 903.7,850.2 904.7,850.2 905.7,850.2 906.7,850.1 907.7,850.1 908.7,850.1 909.7,850.0 910.7,850.0 911.7,850.0 912.7,849.9 913.7,849.9 914.7,849.8 915.7,849.8 916.7,849.8 917.7,849.7 918.7,849.7 919.7,849.7 920.7,849.6 921.7,849.6 922.7,849.5 923.7,849.5L924.6,849.9 925.6,850.2 926.5,850.6 927.4,851.0 928.4,851.3 929.3,851.7 930.2,852.1 931.2,852.4 932.1,852.8 933.0,853.2 933.9,853.5 934.9,853.9 935.8,854.3 936.7,854.7 937.6,855.1 938.5,855.5 939.5,855.9 940.4,856.3 941.3,856.7 942.2,857.1 943.1,857.5 944.0,857.9 944.9,858.4 945.8,858.8 946.8,859.2 947.7,859.6 948.6,860.0 949.5,860.5 950.4,860.9 951.3,861.3 952.2,861.7 953.1,862.2 954.0,862.6 954.9,863.0 955.8,863.5 956.7,863.9 957.6,864.3 958.5,864.8 959.4,865.2 960.3,865.7 961.1,866.2 962.0,866.7 962.8,867.3 963.7,867.8 964.5,868.4 965.3,868.9 966.1,869.5 967.0,870.1 967.8,870.7 968.5,871.3 969.3,872.0 970.1,872.6 970.8,873.3 971.4,874.1 972.1,874.8 972.6,875.6 973.2,876.5 973.7,877.3 974.1,878.2 974.5,879.1 974.9,880.1 975.3,881.0 975.6,881.9 975.9,882.9 976.3,883.8 976.6,884.8 976.9,885.7 977.3,886.7 977.6,887.6 977.9,888.5 978.3,889.5 978.6,890.4 979.0,891.4 979.3,892.3 979.7,893.2 980.0,894.2 980.4,895.1 980.7,896.1 981.0,897.0 981.4,897.9 981.7,898.9 982.1,899.8 982.4,900.8 982.8,901.7 983.1,902.6 983.4,903.6 983.8,904.5 984.1,905.5 984.5,906.4 984.8,907.3 985.2,908.3 985.5,909.2 985.9,910.1 986.2,911.1 986.6,912.0 986.9,913.0 987.3,913.9 987.6,914.8 987.9,915.8 988.3,916.7 988.6,917.7 988.9,918.6 989.2,919.6 989.5,920.6 989.8,921.5 990.0,922.5 990.3,923.4 990.6,924.4 990.9,925.4 991.2,926.3 991.4,927.3 991.7,928.2 992.0,929.2 992.3,930.2 992.6,931.1 992.8,932.1 993.1,933.0 993.4,934.0 993.7,935.0 994.0,935.9 994.3,936.9 994.6,937.8 994.9,938.8 995.2,939.7 995.5,940.7 995.9,941.6 996.2,942.6 996.5,943.5 996.8,944.5 997.1,945.4 997.4,946.4 997.8,947.3 998.1,948.3 998.4,949.2 998.7,950.2 999.0,951.1 999.3,952.1 999.6,953.0 999.9,954.0 1000.2,955.0 1000.5,955.9 1000.7,956.9 1001.0,957.8 1001.3,958.8 1001.6,959.7 1001.9,960.7 1002.2,961.7 1002.5,962.6 1002.8,963.6 1003.1,964.5 1003.4,965.5 1003.6,966.4 1003.9,967.4 1004.2,968.4 1004.5,969.3 1004.8,970.3 1005.1,971.2 1005.4,972.2 1005.7,973.1 1006.0,974.1 1006.3,975.1 1006.6,976.0 1006.8,977.0 1007.1,977.9 1007.4,978.9 1007.7,979.9 1008.0,980.8 1008.3,981.8 1008.6,982.7 1008.8,983.7 1009.1,984.7 1009.4,985.6 1009.7,986.6 1010.0,987.5 1010.3,988.5 1010.5,989.4 1010.8,990.4 1011.1,991.4 1011.4,992.3 1011.8,993.3 1012.1,994.2 1012.4,995.2 1012.7,996.1 1013.1,997.0 1013.4,998.0 1013.8,998.9 1014.1,999.9 1014.5,1000.8 1014.9,1001.7 1015.2,1002.6 1015.6,1003.6 1016.0,1004.5 1016.4,1005.4 1016.9,1006.3 1017.3,1007.2 1017.7,1008.1 1018.2,1009.0 1018.6,1009.9 1019.1,1010.8 1019.6,1011.7 1020.1,1012.5 1020.6,1013.3 1021.2,1014.1 1021.8,1014.9 1022.5,1015.7 1023.1,1016.4 1023.8,1017.1 1024.6,1017.7 1025.4,1018.2 1026.3,1018.6 1027.1,1018.7 1028.0,1018.6 1028.9,1018.4 1029.8,1018.0 1030.6,1017.4 1031.3,1016.8 1032.0,1016.1 1032.6,1015.3 1033.2,1014.5 1033.7,1013.6 1034.1,1012.8 1034.5,1011.9 1034.9,1010.9 1035.3,1010.0 1035.6,1009.1 1035.9,1008.1 1036.2,1007.1 1036.5,1006.2 1036.7,1005.2 1036.9,1004.2 1037.1,1003.2 1037.3,1002.3 1037.5,1001.3 1037.7,1000.3 1037.9,999.3 1038.1,998.3 1038.3,997.4 1038.5,996.4 1038.7,995.4 1038.9,994.4 1039.1,993.4 1039.3,992.5 1039.4,991.5 1039.6,990.5 1039.8,989.5 1040.0,988.5 1040.2,987.5 1040.5,986.6 1040.7,985.6 1040.9,984.6 1041.1,983.6 1041.4,982.7 1041.6,981.7 1041.9,980.7 1042.1,979.8 1042.4,978.8 1042.6,977.8 1042.9,976.9 1043.1,975.9 1043.4,974.9 1043.7,974.0 1043.9,973.0 1044.2,972.0 1044.5,971.1 1044.7,970.1 1045.0,969.1 1045.2,968.2 1045.5,967.2 1045.8,966.2 1046.0,965.3 1046.3,964.3 1046.5,963.3 1046.8,962.4 1047.0,961.4 1047.3,960.4 1047.5,959.5 1047.8,958.5 1048.1,957.5 1048.3,956.6 1048.6,955.6 1048.8,954.6 1049.1,953.7 1049.3,952.7 1049.6,951.7 1049.9,950.8 1050.1,949.8 1050.4,948.8 1050.6,947.9 1050.9,946.9 1051.2,945.9 1051.4,945.0 1051.7,944.0 1051.9,943.0 1052.2,942.1 1052.5,941.1 1052.7,940.1 1053.0,939.2 1053.2,938.2 1053.5,937.2 1053.8,936.3 1054.0,935.3 1054.3,934.3 1054.6,933.4 1054.8,932.4 1055.1,931.4 1055.4,930.5 1055.6,929.5 1055.9,928.5 1056.2,927.6 1056.4,926.6 1056.7,925.6 1057.0,924.7 1057.2,923.7 1057.5,922.8 1057.8,921.8 1058.0,920.8 1058.3,919.9 1058.5,918.9 1058.8,917.9 1059.1,917.0 1059.3,916.0 1059.6,915.0 1059.9,914.1 1060.1,913.1 1060.4,912.1 1060.7,911.2 1060.9,910.2 1061.2,909.2 1061.5,908.3 1061.7,907.3 1062.0,906.4 1062.3,905.4 1062.5,904.4 1062.8,903.5 1063.1,902.5 1063.3,901.5 1063.6,900.6 1063.8,899.6 1064.1,898.6 1064.4,897.7 1064.6,896.7 1064.9,895.7 1065.2,894.8 1065.4,893.8 1065.7,892.8 1066.0,891.9 1066.2,890.9 1066.5,889.9 1066.7,889.0 1067.0,888.0 1067.3,887.0 1067.5,886.1 1067.8,885.1 1068.1,884.1 1068.3,883.2 1068.6,882.2 1068.8,881.2 1069.1,880.3 1069.4,879.3 1069.6,878.3 1069.9,877.4 1070.2,876.4 1070.4,875.5 1070.7,874.5 1070.9,873.5 1071.2,872.6 1071.5,871.6 1071.7,870.6 1072.0,869.7 1072.2,868.7 1072.5,867.7 1072.8,866.8 1073.0,865.8 1073.3,864.8 1073.5,863.9 1073.8,862.9 1074.1,861.9 1074.3,861.0 1074.6,860.0 1074.8,859.0 1075.1,858.1 1075.4,857.1 1075.6,856.1 1075.9,855.2 1076.1,854.2 1076.4,853.2 1076.6,852.3 1076.9,851.3 1077.2,850.3 1077.4,849.4 1077.7,848.4 1077.9,847.4 1078.2,846.5 1078.4,845.5 1078.7,844.5 1079.0,843.6 1079.2,842.6 1079.5,841.6 1079.7,840.7 1080.0,839.7 1080.2,838.7 1080.5,837.7 1080.8,836.8 1081.0,835.8 1081.3,834.8 1081.5,833.9 1081.8,832.9 1082.0,831.9 1082.3,831.0 1082.6,830.0 1082.8,829.0 1083.1,828.1 1083.3,827.1 1083.6,826.1 1083.8,825.2 1084.1,824.2 1084.3,823.2 1084.6,822.3 1084.9,821.3 1085.1,820.3 1085.4,819.4 1085.6,818.4 1085.9,817.4 1086.1,816.5 1086.4,815.5 1086.6,814.5 1086.9,813.6 1087.1,812.6 1087.4,811.6 1087.6,810.7 1087.9,809.7 1088.1,808.7 1088.4,807.7 1088.6,806.8 1088.9,805.8 1089.1,804.8 1089.4,803.9 1089.6,802.9 1089.9,801.9 1090.1,801.0 1090.4,800.0 1090.6,799.0 1090.9,798.1 1091.1,797.1 1091.4,796.1 1091.6,795.1 1091.9,794.2 1092.1,793.2 1092.4,792.2 1092.6,791.3 1092.9,790.3 1093.1,789.3 1093.4,788.4 1093.6,787.4 1093.9,786.4 1094.1,785.5 1094.4,784.5 1094.6,783.5 1094.9,782.5 1095.1,781.6 1095.4,780.6 1095.6,779.6 1095.9,778.7 1096.1,777.7 1096.4,776.7 1096.6,775.8 1096.9,774.8 1097.1,773.8 1097.4,772.9 1097.6,771.9 1097.9,770.9 1098.1,769.9 1098.4,769.0 1098.6,768.0 1098.9,767.0 1099.1,766.1 1099.4,765.1 1099.6,764.1 1099.9,763.2 1100.1,762.2 1100.4,761.2 1100.7,760.3 1100.9,759.3 1101.2,758.3 1101.4,757.4 1101.7,756.4 1101.9,755.4 1102.2,754.5 1102.5,753.5 1102.7,752.5 1103.0,751.6 1103.3,750.6 1103.5,749.6 1103.8,748.7 1104.1,747.7 1104.3,746.7 1104.6,745.8 1104.9,744.8 1105.1,743.8 1105.4,742.9 1105.6,741.9 1105.9,741.0 1106.2,740.0 1106.4,739.0 1106.7,738.1 1107.0,737.1 1107.2,736.1 1107.5,735.2 1107.8,734.2 1108.0,733.2 1108.3,732.3 1108.5,731.3 1108.8,730.3 1109.1,729.4 1109.3,728.4 1109.6,727.4 1109.8,726.5 1110.1,725.5 1110.3,724.5 1110.6,723.6 1110.9,722.6 1111.1,721.6 1111.4,720.7 1111.6,719.7 1111.9,718.7 1112.2,717.8 1112.4,716.8 1112.7,715.8 1112.9,714.9 1113.2,713.9 1113.5,712.9 1113.7,712.0 1114.0,711.0 1114.3,710.0 1114.5,709.1 1114.8,708.1 1115.0,707.1 1115.3,706.2 1115.6,705.2 1115.8,704.2 1116.1,703.3 1116.4,702.3 1116.6,701.3 1116.9,700.4 1117.1,699.4 1117.4,698.4 1117.7,697.5 1117.9,696.5 1118.2,695.5 1118.5,694.6 1118.7,693.6 1119.0,692.6 1119.2,691.7 1119.5,690.7 1119.8,689.8 1120.0,688.8 1120.3,687.8 1120.6,686.9 1120.8,685.9 1121.1,684.9 1121.4,684.0 1121.6,683.0 1121.9,682.0 1122.2,681.1 1122.4,680.1 1122.7,679.1 1123.0,678.2 1123.3,677.2 1123.6,676.3 1123.9,675.3 1124.2,674.4 1124.5,673.4 1124.9,672.5 1125.2,671.5 1125.5,670.6 1125.9,669.7 1126.2,668.7 1126.6,667.8 1127.0,666.9 1127.3,665.9 1127.7,665.0 1128.1,664.1 1128.5,663.2 1129.0,662.3 1129.4,661.4 1129.9,660.5 1130.3,659.6 1130.8,658.7 1131.3,657.8 1131.8,657.0 1132.3,656.1 1132.8,655.3 1133.4,654.4 1133.9,653.6 1134.4,652.7 1135.0,651.9 1135.5,651.1 1136.1,650.2 1136.6,649.4 1137.2,648.6 1137.7,647.7 1138.3,646.9 1138.9,646.1 1139.5,645.3 1140.1,644.5 1140.7,643.7 1141.3,642.9 1141.9,642.0 1142.5,641.2 1143.1,640.4 1143.6,639.6 1144.2,638.8 1144.8,638.0 1145.4,637.2 1146.0,636.4 1146.6,635.6 1147.2,634.8 1147.8,634.0 1148.3,633.1 1148.9,632.3 1149.5,631.5 1150.0,630.7 1150.6,629.8 1151.1,629.0 1151.7,628.2 1152.2,627.3 1152.8,626.5 1153.3,625.7 1153.9,624.8 1154.4,624.0 1155.0,623.2 1155.5,622.3 1156.1,621.5 1156.6,620.6 1157.2,619.8 1157.7,619.0 1158.3,618.1 1158.8,617.3 1159.4,616.4 1159.9,615.6 1160.5,614.8 1161.0,613.9 1161.5,613.1 1162.1,612.3 1162.6,611.4 1163.2,610.6 1163.7,609.7 1164.2,608.9 1164.8,608.0 1165.3,607.2 1165.8,606.3 1166.3,605.5 1166.8,604.6 1167.4,603.7 1167.9,602.9 1168.4,602.0 1168.9,601.1 1169.3,600.3 1169.8,599.4 1170.3,598.5 1170.8,597.7 1171.3,596.8 1171.8,595.9 1172.3,595.0 1172.7,594.1 1173.2,593.3 1173.7,592.4 1174.2,591.5 1174.7,590.6 1175.2,589.8 1175.7,588.9 1176.2,588.0 1176.7,587.2 1177.2,586.3 1177.7,585.4 1178.2,584.6 1178.7,583.7 1179.2,582.9 1179.7,582.0 1180.2,581.1 1180.7,580.3 1181.3,579.4 1181.8,578.6 1182.3,577.7 1182.8,576.8 1183.3,576.0 1183.8,575.1 1184.3,574.3 1184.8,573.4 1185.3,572.5 1185.9,571.7 1186.4,570.8 1186.9,569.9 1187.4,569.1 1187.9,568.2 1188.4,567.4 1188.9,566.5 1189.4,565.6 1189.9,564.8 1190.4,563.9 1190.9,563.0 1191.4,562.2 1191.9,561.3 1192.4,560.4 1192.9,559.6 1193.4,558.7 1193.9,557.8 1194.4,557.0 1194.9,556.1 1195.4,555.3 1195.9,554.4 1196.4,553.5 1196.9,552.7 1197.4,551.8 1197.9,550.9 1198.4,550.1 1198.9,549.2 1199.4,548.3 1200.0,547.5 1200.5,546.6 1201.0,545.8 1201.5,544.9 1202.1,544.1 1202.6,543.2 1203.2,542.4 1203.8,541.6 1204.3,540.8 1204.9,539.9 1205.5,539.1 1206.1,538.3 1206.7,537.5 1207.3,536.7 1207.9,535.9 1208.5,535.2 1209.2,534.4 1209.9,533.7 1210.5,532.9 1211.2,532.2 1212.0,531.5 1212.7,530.9 1213.5,530.3 1214.3,529.7 1215.1,529.1 1216.0,528.6 1216.9,528.1 1217.7,527.6 1218.6,527.2 1219.5,526.8 1220.4,526.3 1221.4,525.9 1222.3,525.6 1223.2,525.2 1224.2,525.0 1225.1,524.8 1226.1,524.7 1227.1,524.7 1228.1,524.8 1229.0,525.0 1230.0,525.3 1230.9,525.6 1231.9,526.0 1232.8,526.4 1233.7,526.8 1234.6,527.3 1235.5,527.7 1236.3,528.2 1237.2,528.7 1238.1,529.2 1239.0,529.7 1239.8,530.2 1240.7,530.7 1241.5,531.3 1242.3,531.8 1243.2,532.4 1244.0,533.0 1244.8,533.5 1245.6,534.1 1246.4,534.7 1247.2,535.3 1248.0,535.9 1248.8,536.5 1249.6,537.1 1250.4,537.7 1251.2,538.3 1252.0,539.0 1252.8,539.6 1253.5,540.2 1254.3,540.9 1255.0,541.6 1255.8,542.2 1256.5,542.9 1257.3,543.5 1258.1,544.2 1258.8,544.8 1259.6,545.4 1260.4,546.0 1261.3,546.6 1262.1,547.1 1263.0,547.6 1263.8,548.1 1264.7,548.6 1265.6,549.0 1266.5,549.4 1267.5,549.7 1268.4,549.9 1269.4,550.0 1270.4,550.1 1271.4,550.0 1272.3,549.9 1273.3,549.7 1274.3,549.4 1275.2,549.0 1276.1,548.7 1277.0,548.3 1278.0,547.9 1278.9,547.5 1279.8,547.1 1280.7,546.7 1281.6,546.3 1282.5,545.8 1283.4,545.4 1284.3,545.0 1285.2,544.5 1286.1,544.1 1287.0,543.6 1287.9,543.2 1288.8,542.7 1289.7,542.3 1290.6,541.8 1291.5,541.3 1292.3,540.9 1293.2,540.4 1294.1,540.0 1295.0,539.5 1295.9,539.1 1296.8,538.6 1297.7,538.2 1298.6,537.8 1299.5,537.4 1300.4,536.9 1301.3,536.5 1302.3,536.1 1303.2,535.7 1304.1,535.3 1305.0,534.9 1305.9,534.5 1306.8,534.1 1307.7,533.7 1308.7,533.3 1309.6,532.9 1310.5,532.5 1311.4,532.1 1312.3,531.7 1313.3,531.3 1314.2,530.9 1315.1,530.5 1316.0,530.1 1316.9,529.7 1317.9,529.4 1318.8,529.1 1319.8,529.0 1320.7,529.0 1321.7,529.1 1322.6,529.3 1323.5,529.7 1324.4,530.2 1325.2,530.7 1326.0,531.3 1326.7,532.0 1327.4,532.7 1328.1,533.4 1328.6,534.2 1329.1,535.1 1329.6,536.0 1330.0,536.9 1330.4,537.8 1330.7,538.7 1331.1,539.7 1331.4,540.6 1331.7,541.6 1332.0,542.5 1332.4,543.5 1332.7,544.4 1333.0,545.4 1333.3,546.3 1333.6,547.3 1333.9,548.2 1334.2,549.2 1334.5,550.1 1334.8,551.1 1335.1,552.1 1335.4,553.0 1335.7,554.0 1335.9,554.9 1336.2,555.9 1336.5,556.9 1336.8,557.8 1337.0,558.8 1337.3,559.7 1337.6,560.7 1337.8,561.7 1338.1,562.6 1338.4,563.6 1338.6,564.6 1338.9,565.5 1339.2,566.5 1339.4,567.5 1339.7,568.4 1340.0,569.4 1340.3,570.4 1340.5,571.3 1340.8,572.3 1341.1,573.2 1341.3,574.2 1341.6,575.2 1341.9,576.1 1342.1,577.1 1342.4,578.1 1342.7,579.0 1343.0,580.0 1343.2,581.0 1343.5,581.9 1343.8,582.9 1344.1,583.8 1344.3,584.8 1344.6,585.8 1344.9,586.7 1345.2,587.7 1345.4,588.6 1345.7,589.6 1346.0,590.6 1346.3,591.5 1346.6,592.5 1346.8,593.4 1347.1,594.4 1347.4,595.4 1347.7,596.3 1348.0,597.3 1348.2,598.3 1348.5,599.2 1348.8,600.2 1349.1,601.1 1349.3,602.1 1349.6,603.1 1349.9,604.0 1350.2,605.0 1350.5,605.9 1350.7,606.9 1351.0,607.9 1351.3,608.8 1351.6,609.8 1351.9,610.8 1352.1,611.7 1352.4,612.7 1352.7,613.6 1353.0,614.6 1353.2,615.6 1353.5,616.5 1353.8,617.5 1354.1,618.4 1354.4,619.4 1354.6,620.4 1354.9,621.3 1355.2,622.3 1355.5,623.2 1355.8,624.2 1356.0,625.2 1356.3,626.1 1356.6,627.1 1356.9,628.1 1357.2,629.0 1357.4,630.0 1357.7,630.9 1358.0,631.9 1358.3,632.9 1358.6,633.8 1358.8,634.8 1359.1,635.7 1359.4,636.7 1359.7,637.7 1360.0,638.6 1360.2,639.6 1360.5,640.5 1360.8,641.5 1361.1,642.5 1361.4,643.4 1361.7,644.4 1361.9,645.3 1362.2,646.3 1362.5,647.3 1362.8,648.2 1363.1,649.2 1363.3,650.1 1363.6,651.1 1363.9,652.1 1364.2,653.0 1364.5,654.0 1364.8,654.9 1365.1,655.9 1365.3,656.9 1365.6,657.8 1365.9,658.8 1366.2,659.7 1366.5,660.7 1366.8,661.6 1367.1,662.6 1367.4,663.6 1367.7,664.5 1367.9,665.5 1368.2,666.4 1368.5,667.4 1368.8,668.4 1369.1,669.3 1369.4,670.3 1369.7,671.2 1370.0,672.2 1370.3,673.1 1370.6,674.1 1370.8,675.1 1371.1,676.0 1371.4,677.0 1371.7,677.9 1372.0,678.9 1372.3,679.8 1372.6,680.8 1372.9,681.8 1373.2,682.7 1373.4,683.7 1373.7,684.6 1374.0,685.6 1374.3,686.6 1374.6,687.5 1374.9,688.5 1375.2,689.4 1375.4,690.4 1375.7,691.4 1376.0,692.3 1376.3,693.3 1376.6,694.2 1376.9,695.2 1377.1,696.2 1377.4,697.1 1377.7,698.1 1378.0,699.0 1378.3,700.0 1378.5,701.0 1378.8,701.9 1379.1,702.9 1379.4,703.8 1379.7,704.8 1379.9,705.8 1380.2,706.7 1380.5,707.7 1380.8,708.6 1381.1,709.6 1381.3,710.6 1381.6,711.5 1381.9,712.5 1382.2,713.5 1382.4,714.4 1382.7,715.4 1383.0,716.3 1383.3,717.3 1383.6,718.3 1383.8,719.2 1384.1,720.2 1384.4,721.1 1384.7,722.1 1384.9,723.1 1385.2,724.0 1385.5,725.0 1385.8,726.0 1386.0,726.9 1386.3,727.9 1386.6,728.8 1386.9,729.8 1387.2,730.8 1387.4,731.7 1387.7,732.7 1388.0,733.7 1388.3,734.6 1388.5,735.6 1388.8,736.5 1389.1,737.5 1389.4,738.5 1389.6,739.4 1389.9,740.4 1390.2,741.3 1390.5,742.3 1390.7,743.3 1391.0,744.2 1391.3,745.2 1391.5,746.2 1391.8,747.1 1392.1,748.1 1392.4,749.0 1392.6,750.0 1392.9,751.0 1393.2,751.9 1393.5,752.9 1393.7,753.9 1394.0,754.8 1394.3,755.8 1394.6,756.8 1394.8,757.7 1395.1,758.7 1395.4,759.6 1395.6,760.6 1395.9,761.6 1396.2,762.5 1396.5,763.5 1396.7,764.5 1397.0,765.4 1397.3,766.4 1397.5,767.3 1397.8,768.3 1398.1,769.3 1398.4,770.2 1398.6,771.2 1398.9,772.2 1399.2,773.1 1399.4,774.1 1399.7,775.1 1400.0,776.0 1400.3,777.0 1400.5,777.9 1400.8,778.9 1401.1,779.9 1401.3,780.8 1401.6,781.8 1401.9,782.8 1402.1,783.7 1402.4,784.7 1402.7,785.7 1403.0,786.6 1403.2,787.6 1403.5,788.5 1403.8,789.5 1404.0,790.5 1404.3,791.4 1404.6,792.4 1404.8,793.4 1405.1,794.3 1405.4,795.3 1405.6,796.3 1405.9,797.2 1406.2,798.2 1406.4,799.1 1406.7,800.1 1407.0,801.1 1407.2,802.0 1407.5,803.0 1407.8,804.0 1408.0,804.9 1408.3,805.9 1408.6,806.9 1408.8,807.8 1409.1,808.8 1409.4,809.8 1409.6,810.7 1409.9,811.7 1410.2,812.7 1410.4,813.6 1410.7,814.6 1411.0,815.6 1411.2,816.5 1411.5,817.5 1411.8,818.4 1412.0,819.4 1412.3,820.4 1412.5,821.3 1412.8,822.3 1413.1,823.3 1413.3,824.2 1413.6,825.2 1413.9,826.2 1414.1,827.1 1414.4,828.1 1414.6,829.1 1414.9,830.0 1415.2,831.0 1415.4,832.0 1415.7,832.9 1415.9,833.9 1416.2,834.9 1416.5,835.8 1416.7,836.8 1417.0,837.8 1417.2,838.7 1417.5,839.7 1417.7,840.7 1418.0,841.6 1418.3,842.6 1418.5,843.6 1418.8,844.5 1419.0,845.5 1419.3,846.5 1419.6,847.4 1419.8,848.4 1420.1,849.4 1420.3,850.3 1420.6,851.3 1420.8,852.3 1421.1,853.2 1421.4,854.2 1421.6,855.2 1421.9,856.1 1422.1,857.1 1422.4,858.1 1422.6,859.0 1422.9,860.0 1423.1,861.0 1423.4,862.0 1423.7,862.9 1423.9,863.9 1424.2,864.9 1424.4,865.8 1424.7,866.8 1424.9,867.8 1425.2,868.7 1425.4,869.7 1425.7,870.7 1426.0,871.6 1426.2,872.6 1426.5,873.6 1426.7,874.5 1427.0,875.5 1427.2,876.5 1427.5,877.4 1427.7,878.4 1428.0,879.4 1428.2,880.3 1428.5,881.3 1428.8,882.3 1429.0,883.2 1429.3,884.2 1429.5,885.2 1429.8,886.1 1430.0,887.1 1430.3,888.1 1430.5,889.0 1430.8,890.0 1431.0,891.0 1431.3,892.0 1431.6,892.9 1431.8,893.9 1432.1,894.9 1432.3,895.8 1432.6,896.8 1432.8,897.8 1433.1,898.7 1433.3,899.7 1433.6,900.7 1433.8,901.6 1434.1,902.6 1434.4,903.6 1434.6,904.5 1434.9,905.5 1435.1,906.5 1435.4,907.4 1435.6,908.4 1435.9,909.4 1436.1,910.3 1436.4,911.3 1436.7,912.3 1436.9,913.2 1437.2,914.2 1437.4,915.2 1437.7,916.1 1437.9,917.1 1438.2,918.1 1438.4,919.0 1438.7,920.0 1439.0,921.0 1439.2,921.9 1439.5,922.9 1439.6,923.4L1440.2,924.2 1440.7,925.1 1441.3,925.9 1441.8,926.8 1442.4,927.6 1442.9,928.4 1443.5,929.3 1444.0,930.1 1444.6,931.0 1445.1,931.8 1445.7,932.6 1446.3,933.5 1446.8,934.3 1447.4,935.2 1447.9,936.0 1448.5,936.8 1449.0,937.7 1449.6,938.5 1450.1,939.3 1450.7,940.2 1451.2,941.0 1451.8,941.9 1452.3,942.7 1452.9,943.5 1453.5,944.4 1454.0,945.2 1454.6,946.1 1455.1,946.9 1455.7,947.7 1456.2,948.6 1456.8,949.4 1457.3,950.3 1457.9,951.1 1458.4,951.9 1459.0,952.8 1459.6,953.6 1460.1,954.5 1460.7,955.3 1461.2,956.1 1461.8,957.0 1462.3,957.8 1462.9,958.7 1463.4,959.5 1464.0,960.3 1464.5,961.2 1465.1,962.0 1465.7,962.9 1466.2,963.7 1466.8,964.5 1467.3,965.4 1467.9,966.2 1468.4,967.0 1469.0,967.9 1469.5,968.7 1470.1,969.6 1470.6,970.4 1471.2,971.2 1471.7,972.1 1472.3,972.9 1472.9,973.8 1473.4,974.6 1474.0,975.4 1474.5,976.3 1475.1,977.1 1475.6,978.0 1476.2,978.8 1476.7,979.6 1477.3,980.5 1477.8,981.3 1478.4,982.2 1479.0,983.0 1479.5,983.8 1480.1,984.7 1480.6,985.5 1481.2,986.4 1481.7,987.2 1482.3,988.0 1482.8,988.9 1483.4,989.7 1483.9,990.5 1484.5,991.4 1485.0,992.2 1485.6,993.1 1486.2,993.9 1486.7,994.7 1487.3,995.6 1487.8,996.4 1488.4,997.3 1488.9,998.1 1489.5,998.9 1490.0,999.8 1490.6,1000.6 1491.1,1001.5 1491.7,1002.3" fill="none" stroke="#46be50" stroke-width="4.7" stroke-linejoin="miter"/>
<text transform="translate(827.56 108.20) scale(0.9201 1)" font-size="43.30" font-weight="bold" text-anchor="middle" fill="#46be50">Wybory powszechne w 2019 roku w Wielkiej Brytanii</text>
<text transform="translate(827.80 170.70) scale(0.9947 1)" font-size="32.30" stroke="#2e3b43" stroke-width="0.60" stroke-linejoin="round" text-anchor="middle" fill="#2e3b43">Zmiany w ruchu na stronach na godzine w rozróżnieniu na płcie</text>
<text transform="translate(828.10 211.70) scale(0.9935 1)" font-size="32.30" stroke="#2e3b43" stroke-width="0.60" stroke-linejoin="round" text-anchor="middle" fill="#2e3b43">w dniach 12-13 grudnia w porównaniu do przeciętnego dnia</text>
<text transform="translate(178.70 364.20) scale(0.9478 1)" font-size="25.00" font-weight="bold" fill="#111111">Mężczyźni</text>
<text transform="translate(391.62 364.00) scale(0.8900 1)" font-size="25.00" font-weight="bold" fill="#111111">Kobiety</text>
<text transform="translate(1070.09 364.00) scale(0.9504 1)" font-size="24.70" stroke="#111111" stroke-width="0.21" stroke-linejoin="round" fill="#111111">12 Grudnia</text>
<text transform="translate(1238.10 364.00) scale(0.9504 1)" font-size="24.70" stroke="#111111" stroke-width="0.21" stroke-linejoin="round" fill="#111111">13 Grudnia</text>
<text transform="translate(129.29 468.00) scale(0.8884 1)" font-size="24.80" font-weight="bold" fill="#111111">15%</text>
<text transform="translate(128.85 580.00) scale(0.9139 1)" font-size="24.80" font-weight="bold" fill="#111111">10%</text>
<text transform="translate(129.13 692.00) scale(0.8710 1)" font-size="24.80" font-weight="bold" fill="#111111">5%</text>
<text transform="translate(127.26 804.00) scale(1.0903 1)" font-size="24.80" font-weight="bold" fill="#111111">0</text>
<text transform="translate(178.72 804.00) scale(0.9169 1)" font-size="24.80" font-weight="bold" fill="#111111">Average</text>
<text transform="translate(129.87 915.80) scale(0.9061 1)" font-size="24.80" font-weight="bold" fill="#111111">-5%</text>
<text transform="translate(130.27 1028.00) scale(0.9217 1)" font-size="24.80" font-weight="bold" fill="#111111">-10%</text>
<text transform="translate(690.73 740.80) scale(0.9125 1)" font-size="24.40" stroke="#46be50" stroke-width="0.99" stroke-linejoin="round" fill="#46be50">+4</text>
<text transform="translate(538.68 911.90) scale(0.9916 1)" font-size="24.40" stroke="#ffc107" stroke-width="0.91" stroke-linejoin="round" fill="#ffc107">-4</text>
<text transform="translate(824.96 959.10) scale(1.0423 1)" font-size="24.40" stroke="#46be50" stroke-width="0.86" stroke-linejoin="round" fill="#46be50">-5</text>
<text transform="translate(1106.96 958.70) scale(1.0423 1)" font-size="24.40" stroke="#ffc107" stroke-width="0.86" stroke-linejoin="round" fill="#ffc107">-5</text>
<text transform="translate(1048.06 1019.60) scale(1.0320 1)" font-size="24.40" stroke="#46be50" stroke-width="0.87" stroke-linejoin="round" fill="#46be50">-9</text>
<text transform="translate(1282.38 434.40) scale(0.9813 1)" font-size="24.40" stroke="#ffc107" stroke-width="0.92" stroke-linejoin="round" fill="#ffc107">+18</text>
<text transform="translate(1345.20 533.30) scale(0.9805 1)" font-size="24.40" stroke="#46be50" stroke-width="0.92" stroke-linejoin="round" fill="#46be50">+13</text>
<text transform="translate(268.40 1099.00) scale(1.0000 1)" font-size="24.80" font-weight="bold" text-anchor="middle" fill="#111111">7</text>
<text transform="translate(313.20 1099.00) scale(1.0000 1)" font-size="24.80" font-weight="bold" text-anchor="middle" fill="#111111">8</text>
<text transform="translate(356.30 1099.00) scale(1.0000 1)" font-size="24.80" font-weight="bold" text-anchor="middle" fill="#111111">9</text>
<text transform="translate(408.00 1099.00) scale(1.0000 1)" font-size="24.80" font-weight="bold" text-anchor="middle" fill="#111111">10</text>
<text transform="translate(464.80 1099.00) scale(1.0000 1)" font-size="24.80" font-weight="bold" text-anchor="middle" fill="#111111">11</text>
<text transform="translate(524.20 1099.00) scale(1.0000 1)" font-size="24.80" font-weight="bold" text-anchor="middle" fill="#111111">12</text>
<text transform="translate(581.60 1099.00) scale(1.0000 1)" font-size="24.80" font-weight="bold" text-anchor="middle" fill="#111111">13</text>
<text transform="translate(639.80 1099.00) scale(1.0000 1)" font-size="24.80" font-weight="bold" text-anchor="middle" fill="#111111">14</text>
<text transform="translate(697.70 1099.00) scale(1.0000 1)" font-size="24.80" font-weight="bold" text-anchor="middle" fill="#111111">15</text>
<text transform="translate(756.50 1099.00) scale(1.0000 1)" font-size="24.80" font-weight="bold" text-anchor="middle" fill="#111111">16</text>
<text transform="translate(813.90 1099.00) scale(1.0000 1)" font-size="24.80" font-weight="bold" text-anchor="middle" fill="#111111">17</text>
<text transform="translate(871.80 1099.00) scale(1.0000 1)" font-size="24.80" font-weight="bold" text-anchor="middle" fill="#111111">18</text>
<text transform="translate(929.80 1099.00) scale(1.0000 1)" font-size="24.80" font-weight="bold" text-anchor="middle" fill="#111111">19</text>
<text transform="translate(988.60 1099.00) scale(1.0000 1)" font-size="24.80" font-weight="bold" text-anchor="middle" fill="#111111">20</text>
<text transform="translate(1045.50 1099.00) scale(1.0000 1)" font-size="24.80" font-weight="bold" text-anchor="middle" fill="#111111">21</text>
<text transform="translate(1104.50 1099.00) scale(1.0000 1)" font-size="24.80" font-weight="bold" text-anchor="middle" fill="#111111">22</text>
<text transform="translate(1162.40 1099.00) scale(1.0000 1)" font-size="24.80" font-weight="bold" text-anchor="middle" fill="#111111">23</text>
<text transform="translate(1212.90 1099.00) scale(1.0000 1)" font-size="24.80" font-weight="bold" text-anchor="middle" fill="#111111">0</text>
<text transform="translate(1256.00 1099.00) scale(1.0000 1)" font-size="24.80" font-weight="bold" text-anchor="middle" fill="#111111">1</text>
<text transform="translate(1301.00 1099.00) scale(1.0000 1)" font-size="24.80" font-weight="bold" text-anchor="middle" fill="#111111">2</text>
<text transform="translate(1344.60 1099.00) scale(1.0000 1)" font-size="24.80" font-weight="bold" text-anchor="middle" fill="#111111">3</text>
<text transform="translate(1388.90 1099.00) scale(1.0000 1)" font-size="24.80" font-weight="bold" text-anchor="middle" fill="#111111">4</text>
<text transform="translate(1433.60 1099.00) scale(1.0000 1)" font-size="24.80" font-weight="bold" text-anchor="middle" fill="#111111">5</text>
<text transform="translate(1476.90 1099.00) scale(1.0000 1)" font-size="24.80" font-weight="bold" text-anchor="middle" fill="#111111">6</text>
<text transform="translate(1520.80 1099.00) scale(1.0000 1)" font-size="24.80" font-weight="bold" text-anchor="middle" fill="#111111">7</text>
</svg>
</div>
</body></html>
